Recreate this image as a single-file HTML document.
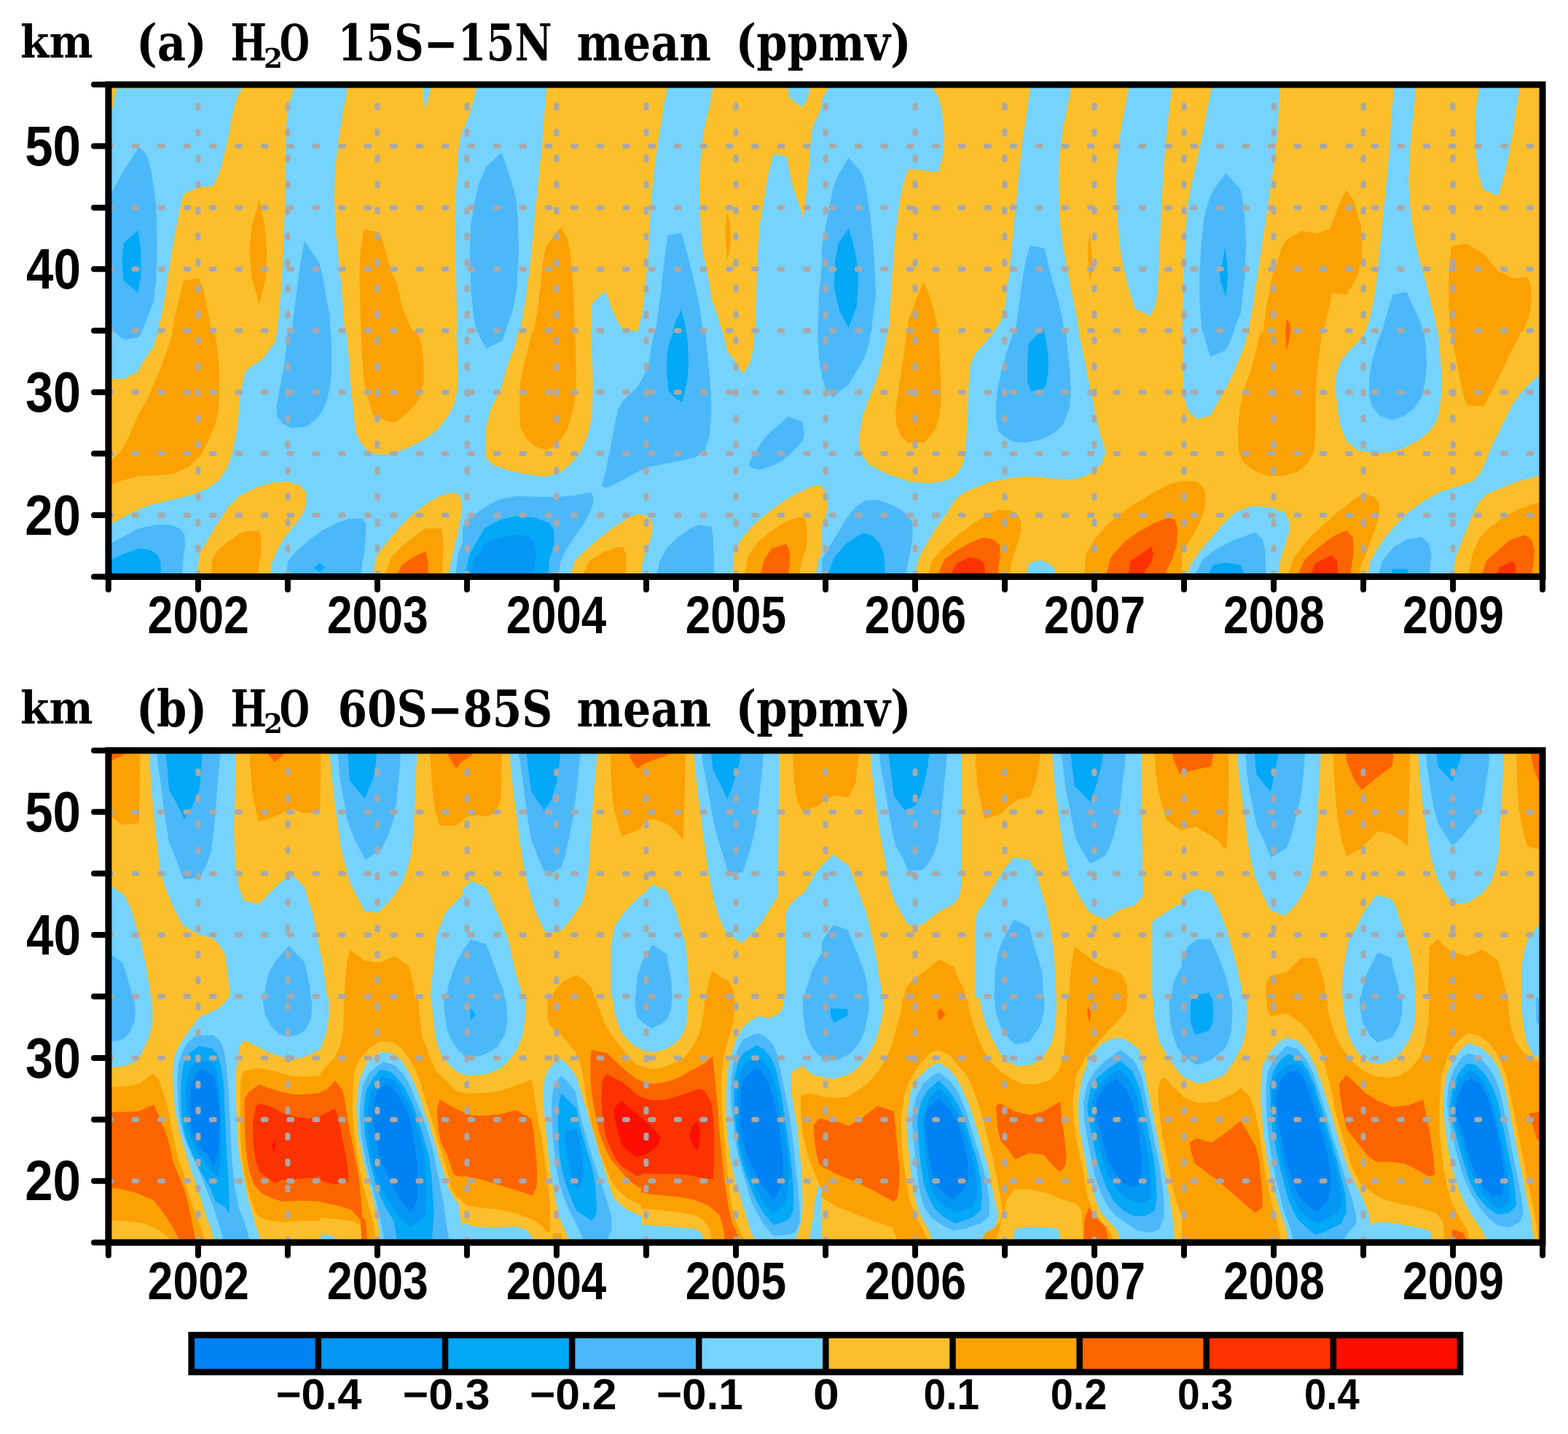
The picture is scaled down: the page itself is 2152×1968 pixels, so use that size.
<!DOCTYPE html>
<html><head><meta charset="utf-8"><title>H2O anomalies</title>
<style>html,body{margin:0;padding:0;background:#fff;width:2152px;height:1968px;overflow:hidden}
svg text{fill:#000}</style></head>
<body>
<svg width="2152" height="1968" viewBox="0 0 2152 1968" style="position:absolute;left:0;top:0"><defs><clipPath id="pa"><rect x="148.3" y="116" width="1968.7" height="675"/></clipPath><clipPath id="pb"><rect x="148.3" y="1030.5" width="1968.7" height="675"/></clipPath><clipPath id="k0"><rect x="140" y="110" width="495" height="345"/></clipPath><clipPath id="k1"><rect x="635" y="110" width="493" height="345"/></clipPath><clipPath id="k2"><rect x="1128" y="110" width="494" height="345"/></clipPath><clipPath id="k3"><rect x="1622" y="110" width="503" height="345"/></clipPath><clipPath id="k4"><rect x="140" y="455" width="495" height="345"/></clipPath><clipPath id="k5"><rect x="635" y="455" width="493" height="345"/></clipPath><clipPath id="k6"><rect x="1128" y="455" width="494" height="345"/></clipPath><clipPath id="k7"><rect x="1622" y="455" width="503" height="345"/></clipPath><clipPath id="k8"><rect x="140" y="1024" width="495" height="345"/></clipPath><clipPath id="k9"><rect x="635" y="1024" width="493" height="345"/></clipPath><clipPath id="k10"><rect x="1128" y="1024" width="494" height="345"/></clipPath><clipPath id="k11"><rect x="1622" y="1024" width="503" height="345"/></clipPath><clipPath id="k12"><rect x="140" y="1369" width="495" height="345"/></clipPath><clipPath id="k13"><rect x="140" y="1369" width="300" height="345"/></clipPath><clipPath id="k14"><rect x="635" y="1369" width="245" height="345"/></clipPath><clipPath id="k15"><rect x="880" y="1369" width="248" height="345"/></clipPath><clipPath id="k16"><rect x="1128" y="1369" width="494" height="345"/></clipPath><clipPath id="k17"><rect x="1622" y="1369" width="503" height="345"/></clipPath></defs>
<g clip-path="url(#pa)">
<g clip-path="url(#k0)">
<rect x="140" y="110" width="495" height="345" fill="#FBBF2B"/>
<polygon fill="#75D3FD" points="162.3,121.2 332.2,121.2 324.8,134.8 318.6,159.6 313.6,186.9 303.7,229.0 293.8,253.8 288.8,255.8 271.4,257.6 251.6,266.2 246.6,288.6 239.2,325.8 231.8,370.4 224.3,420.0 215.6,460.0 140.0,460.0 140.0,152.2 153.6,152.2 162.3,110.0"/>
<polygon fill="#75D3FD" points="402.9,110.0 478.5,110.0 476.8,121.2 469.9,159.6 463.7,196.8 459.9,234.0 458.7,271.2 461.2,320.8 464.9,358.0 469.9,407.6 473.6,460.0 379.3,460.0 383.1,432.4 386.8,382.8 389.3,333.2 391.0,283.6 391.7,209.2 393.0,172.0 396.7,142.2 402.9,121.2"/>
<polygon fill="#75D3FD" points="581.0,110.0 590.9,110.0 590.9,121.2 583.5,152.2 581.0,121.2"/>
<polygon fill="#75D3FD" points="640.0,164.6 633.6,179.4 628.6,209.2 626.1,258.8 624.9,320.8 626.1,382.8 627.4,460.0 640.0,460.0"/>
<polygon fill="#4BB8FA" points="140.0,263.8 153.6,263.8 169.8,234.0 190.8,201.8 200.8,211.7 205.7,226.6 210.7,253.8 214.4,283.6 215.6,333.2 214.4,382.8 210.7,415.1 204.5,429.9 195.8,452.3 190.8,460.0 140.0,460.0"/>
<polygon fill="#4BB8FA" points="417.8,330.7 427.7,345.6 437.6,359.3 442.6,377.9 447.5,407.6 452.5,432.4 453.7,460.0 400.4,460.0 402.9,432.4 407.9,395.2 412.8,358.0"/>
<polygon fill="#03A8F7" points="169.8,333.2 189.6,315.9 193.3,345.6 193.3,377.9 189.6,401.4 169.8,385.3 167.3,358.0"/>
<polygon fill="#FCA103" points="355.8,273.7 363.2,308.4 366.2,345.6 364.5,382.8 355.8,417.5 345.9,382.8 342.1,345.6 345.9,308.4"/>
<polygon fill="#FCA103" points="251.6,385.3 272.7,381.6 278.9,395.2 286.3,432.4 291.3,460.0 235.5,460.0 240.4,432.4 246.6,407.6"/>
<polygon fill="#FCA103" points="499.6,314.6 521.9,319.6 529.4,345.6 536.8,372.9 544.3,387.8 551.7,420.0 561.6,444.8 569.1,460.0 495.9,460.0 494.7,432.4 493.4,382.8 494.7,345.6"/>
</g>
<g clip-path="url(#k1)">
<rect x="635" y="110" width="493" height="345" fill="#FBBF2B"/>
<polygon fill="#75D3FD" points="653.6,110.0 750.3,110.0 750.3,121.2 747.8,147.2 745.3,184.4 741.6,221.6 736.6,271.2 731.7,320.8 726.7,370.4 721.8,407.6 715.6,444.8 713.1,460.0 630.0,460.0 630.0,205.5 637.4,174.5 647.4,147.2 653.6,121.2"/>
<polygon fill="#75D3FD" points="916.5,110.0 979.7,110.0 978.5,121.2 973.5,147.2 967.3,172.0 963.6,196.8 961.1,221.6 959.9,258.8 961.1,296.0 962.3,333.2 967.3,358.0 972.3,382.8 977.2,412.6 984.7,432.4 992.1,460.0 875.5,460.0 875.5,454.7 883.0,420.0 886.7,382.8 889.2,358.0 891.7,308.4 894.1,271.2 897.9,234.0 902.8,196.8 909.0,159.6 912.7,134.8 916.5,121.2"/>
<polygon fill="#75D3FD" points="812.3,460.0 812.3,417.5 818.5,410.1 825.9,403.9 832.1,400.2 838.3,420.0 845.8,437.4 854.5,452.3 868.1,453.5 875.5,454.7 875.5,460.0"/>
<polygon fill="#75D3FD" points="1081.4,110.0 1111.2,110.0 1111.2,121.2 1108.7,134.8 1101.2,147.2 1083.4,134.8 1081.4,121.2"/>
<polygon fill="#75D3FD" points="1036.7,460.0 1038.0,407.6 1039.2,358.0 1042.9,308.4 1049.1,271.2 1055.3,234.0 1061.5,210.4 1080.1,215.4 1083.9,239.0 1088.8,258.8 1096.3,278.7 1102.5,301.0 1106.2,271.2 1109.9,234.0 1111.2,209.2 1113.6,184.4 1116.1,172.0 1122.3,159.6 1130.0,139.8 1130.0,460.0"/>
<polygon fill="#4BB8FA" points="688.3,209.2 694.5,226.6 701.9,248.9 708.1,271.2 710.6,296.0 711.8,345.6 709.4,395.2 704.4,422.5 698.2,442.3 692.0,460.0 654.8,460.0 649.8,432.4 646.1,395.2 644.9,345.6 646.1,308.4 651.1,278.7 657.3,251.4 667.2,229.0"/>
<polygon fill="#4BB8FA" points="916.5,323.3 935.1,319.6 942.5,345.6 948.7,370.4 954.9,395.2 959.9,420.0 963.6,444.8 964.8,460.0 899.1,460.0 902.8,432.4 907.8,395.2 911.5,358.0"/>
<polygon fill="#03A8F7" points="935.1,425.0 940.0,444.8 942.5,460.0 921.4,460.0 927.6,439.9"/>
<polygon fill="#4BB8FA" points="1122.3,460.0 1123.6,407.6 1127.3,370.4 1130.0,358.0 1130.0,460.0"/>
<polygon fill="#FCA103" points="770.1,310.9 778.8,328.3 782.5,345.6 785.0,370.4 787.5,407.6 788.7,460.0 731.7,460.0 736.6,432.4 741.6,395.2 745.3,358.0 749.0,338.2"/>
<polygon fill="#FCA103" points="998.3,291.1 1002.0,308.4 1003.3,328.3 1000.8,345.6 998.3,358.0 995.8,333.2 995.8,308.4"/>
</g>
<g clip-path="url(#k2)">
<rect x="1128" y="110" width="494" height="345" fill="#FBBF2B"/>
<polygon fill="#75D3FD" points="1136.2,110.0 1278.8,110.0 1280.0,121.2 1288.7,134.8 1293.7,159.6 1296.1,184.4 1294.9,209.2 1291.2,224.1 1287.5,236.5 1246.5,231.5 1241.6,246.4 1235.4,271.2 1230.4,308.4 1226.7,345.6 1224.2,382.8 1221.7,420.0 1219.2,460.0 1125.0,460.0 1125.0,144.7 1136.2,121.2"/>
<polygon fill="#4BB8FA" points="1164.7,216.6 1178.3,231.5 1184.5,241.4 1189.5,263.8 1194.4,296.0 1198.2,333.2 1200.6,370.4 1201.9,407.6 1198.2,432.4 1195.7,460.0 1125.0,460.0 1125.0,358.0 1128.7,333.2 1133.7,308.4 1138.6,283.6 1143.6,256.3 1152.3,236.5"/>
<polygon fill="#03A8F7" points="1164.7,313.4 1170.9,333.2 1175.8,358.0 1178.3,382.8 1175.8,420.0 1164.7,449.8 1152.3,427.5 1144.8,395.2 1146.1,358.0 1151.0,333.2"/>
<polygon fill="#FCA103" points="1267.6,387.8 1273.8,400.2 1280.0,420.0 1285.0,439.9 1287.5,460.0 1245.3,460.0 1246.5,439.9 1254.0,420.0 1261.4,400.2"/>
<polygon fill="#75D3FD" points="1413.9,110.0 1470.2,110.0 1469.7,121.2 1464.8,147.2 1459.8,172.0 1456.1,196.8 1453.6,221.6 1452.9,246.4 1453.6,271.2 1454.9,308.4 1458.6,333.2 1462.3,358.0 1467.3,382.8 1472.2,407.6 1477.2,432.4 1482.1,460.0 1358.1,460.0 1363.1,457.2 1373.0,442.3 1379.2,420.0 1382.9,395.2 1385.4,370.4 1387.9,345.6 1391.6,308.4 1395.3,271.2 1397.8,246.4 1400.3,221.6 1402.8,196.8 1406.5,172.0 1410.2,147.2 1413.9,121.2"/>
<polygon fill="#4BB8FA" points="1413.9,336.9 1433.8,340.7 1437.5,358.0 1442.5,377.9 1447.4,395.2 1452.4,412.6 1457.3,432.4 1461.1,460.0 1392.9,460.0 1396.6,432.4 1401.5,395.2 1407.7,358.0"/>
<polygon fill="#03A8F7" points="1432.5,451.0 1433.8,460.0 1422.6,460.0"/>
<polygon fill="#75D3FD" points="1549.6,110.0 1609.1,110.0 1608.6,121.2 1604.9,147.2 1601.2,184.4 1598.7,209.2 1596.2,246.4 1593.8,283.6 1592.5,320.8 1591.3,358.0 1588.8,395.2 1586.3,417.5 1578.9,433.7 1557.8,423.7 1549.1,395.2 1542.9,370.4 1537.9,345.6 1535.5,320.8 1533.0,296.0 1531.7,271.2 1531.7,246.4 1533.0,221.6 1535.5,196.8 1539.2,172.0 1544.1,147.2 1549.1,121.2"/>
<polygon fill="#FCA103" points="1495.8,319.6 1498.3,345.6 1499.5,370.4 1495.8,386.5 1493.3,358.0 1493.3,333.2"/>
</g>
<g clip-path="url(#k3)">
<rect x="1622" y="110" width="503" height="345" fill="#FBBF2B"/>
<polygon fill="#75D3FD" points="1663.1,110.0 1757.3,110.0 1756.5,121.3 1755.3,147.6 1752.8,185.1 1749.0,222.7 1745.2,247.8 1741.5,272.8 1737.7,297.9 1734.0,322.9 1730.2,348.0 1726.5,373.0 1722.7,398.1 1718.9,423.1 1713.9,448.2 1711.4,459.9 1622.5,459.9 1623.8,410.6 1625.0,373.0 1626.3,335.4 1628.8,297.9 1631.3,272.8 1636.3,247.8 1642.5,222.7 1647.6,197.7 1652.6,172.6 1657.6,147.6 1662.6,121.3"/>
<polygon fill="#4BB8FA" points="1682.6,237.8 1692.6,249.0 1702.7,260.3 1706.4,280.3 1708.9,310.4 1710.2,335.4 1708.9,373.0 1706.4,398.1 1702.7,430.6 1695.1,448.2 1692.6,459.9 1650.1,459.9 1646.3,410.6 1646.3,373.0 1648.8,335.4 1652.6,297.9 1657.6,280.3 1661.3,267.8 1670.1,254.0"/>
<polygon fill="#03A8F7" points="1681.4,339.2 1683.9,360.5 1685.1,380.5 1682.6,408.1 1675.1,385.5 1673.9,373.0 1677.6,360.5"/>
<polygon fill="#FCA103" points="1848.0,260.3 1859.2,277.8 1864.2,297.9 1868.0,310.4 1869.2,335.4 1868.0,360.5 1864.2,375.5 1856.7,390.6 1848.0,404.3 1827.9,401.8 1824.2,423.1 1819.1,443.2 1815.4,459.9 1732.7,459.9 1737.7,423.1 1742.7,398.1 1745.2,380.5 1752.8,360.5 1759.0,340.5 1765.3,329.2 1786.6,316.7 1805.4,320.4 1825.4,314.2 1830.4,300.4 1837.9,280.3"/>
<polygon fill="#FC6400" points="1765.3,438.1 1770.3,443.2 1771.6,459.9 1764.0,459.9"/>
<polygon fill="#75D3FD" points="1913.1,110.0 1943.6,110.0 1943.1,121.3 1940.6,147.6 1938.1,172.6 1935.6,197.7 1934.4,222.7 1933.1,247.8 1934.4,272.8 1936.9,297.9 1940.6,322.9 1945.6,348.0 1953.2,373.0 1959.4,398.1 1965.7,423.1 1970.7,443.2 1973.2,459.9 1873.0,459.9 1878.0,443.2 1883.0,423.1 1888.0,398.1 1890.5,373.0 1893.0,348.0 1895.5,322.9 1898.1,297.9 1900.6,272.8 1903.1,247.8 1905.6,222.7 1908.1,185.1 1910.6,147.6 1913.1,121.3"/>
<polygon fill="#4BB8FA" points="1911.8,404.3 1930.6,400.6 1938.1,418.1 1945.6,433.1 1950.7,445.7 1953.2,459.9 1895.5,459.9 1900.6,440.7 1905.6,423.1"/>
<polygon fill="#75D3FD" points="2029.6,110.0 2086.4,110.0 2085.9,121.3 2080.9,147.6 2075.9,185.1 2070.9,210.2 2065.9,235.2 2060.9,252.8 2055.9,269.1 2035.8,260.3 2029.6,240.3 2025.8,215.2 2024.6,185.1 2025.8,147.6 2029.6,121.3"/>
<polygon fill="#FCA103" points="1992.0,338.0 2013.3,334.2 2035.8,348.0 2055.9,371.8 2075.9,381.8 2097.2,380.5 2101.0,393.1 2102.2,410.6 2099.7,430.6 2094.7,443.2 2088.4,459.9 1990.7,459.9 1988.2,423.1 1988.2,385.5 1989.5,360.5"/>
</g>
<g clip-path="url(#k4)">
<rect x="140" y="455" width="495" height="345" fill="#75D3FD"/>
<polygon fill="#FBBF2B" points="217.4,450.0 380.6,450.0 379.8,457.9 377.4,469.6 369.7,480.0 359.2,494.1 346.3,501.8 337.2,509.5 333.5,522.4 331.0,535.3 329.0,548.2 328.2,560.1 327.3,574.0 323.5,598.8 318.6,623.6 311.1,643.5 301.2,658.3 288.8,668.3 269.0,676.9 251.6,681.9 226.8,688.1 202.0,694.3 177.2,705.5 140.0,725.3 140.0,519.2 154.1,519.2 165.8,520.7 171.0,519.2 182.7,513.5 189.6,509.5 194.1,500.6 200.5,490.2 210.2,477.3 214.7,461.9"/>
<polygon fill="#FBBF2B" points="474.8,450.0 626.1,450.0 627.4,487.2 628.6,512.0 627.4,536.8 623.6,554.2 616.2,569.0 601.3,588.9 581.5,603.8 561.6,613.7 536.8,623.6 517.0,623.6 504.6,618.7 494.7,606.2 488.5,593.8 486.0,574.0 483.5,549.2 481.0,524.4 478.5,487.2"/>
<polygon fill="#FBBF2B" points="269.0,800.0 273.9,760.0 283.8,742.7 298.7,717.9 313.6,695.5 328.5,680.7 350.8,669.5 375.6,662.1 395.5,660.8 412.8,667.0 420.3,675.7 420.3,688.1 417.8,700.5 410.3,712.9 400.4,725.3 390.5,737.7 380.6,755.1 373.1,772.4 369.4,800.0"/>
<polygon fill="#FBBF2B" points="509.5,800.0 517.0,762.5 531.9,742.7 549.2,722.8 566.6,705.5 586.4,690.6 606.3,679.4 623.6,675.7 631.1,680.7 633.6,690.6 632.3,710.4 627.4,735.2 621.2,760.0 612.5,800.0"/>
<polygon fill="#4BB8FA" points="140.0,450.0 197.5,450.0 196.5,451.5 191.6,460.7 189.1,463.1 172.2,465.9 167.0,463.9 155.4,454.2 151.2,450.0"/>
<polygon fill="#4BB8FA" points="395.5,450.0 453.7,450.0 455.0,474.8 455.0,512.0 452.5,531.8 448.8,549.2 442.6,564.1 432.7,576.5 420.3,585.2 400.4,587.6 388.0,581.4 380.6,571.5 379.3,559.1 381.8,544.2 385.5,524.4 389.3,507.0 391.7,487.2 394.2,462.4"/>
<polygon fill="#4BB8FA" points="140.0,745.1 153.6,745.1 167.3,737.7 189.6,725.3 214.4,720.3 234.2,720.3 246.6,725.3 252.8,732.7 254.1,747.6 251.6,767.5 249.1,800.0 140.0,800.0"/>
<polygon fill="#4BB8FA" points="390.5,800.0 395.5,769.9 407.9,755.1 425.2,740.2 442.6,727.8 462.4,717.9 479.8,711.7 497.1,711.7 502.1,717.9 502.1,735.2 499.6,760.0 497.1,772.4 494.7,800.0"/>
<polygon fill="#4BB8FA" points="623.6,800.0 628.6,760.0 636.0,742.7 640.0,735.2 640.0,800.0"/>
<polygon fill="#03A8F7" points="140.0,767.5 153.6,767.5 169.8,760.0 192.1,752.6 207.0,755.1 216.9,762.5 220.6,772.4 220.6,800.0 140.0,800.0"/>
<polygon fill="#03A8F7" points="430.2,779.9 438.9,772.4 446.3,778.6 438.9,784.8"/>
<polygon fill="#FCA103" points="237.5,450.0 293.8,450.0 294.8,457.9 298.0,477.3 300.0,496.6 301.0,516.0 300.7,541.8 300.0,560.1 297.5,574.0 293.8,586.4 286.3,603.8 276.4,623.6 259.0,641.0 234.2,650.9 189.6,653.4 167.3,659.6 140.0,672.0 140.0,633.5 153.6,631.1 164.8,621.1 177.2,598.8 189.6,569.0 202.0,548.2 209.7,528.9 217.4,513.5 222.6,500.6 227.8,483.7 233.0,470.8 238.0,451.5"/>
<polygon fill="#FCA103" points="494.7,450.0 571.5,450.0 579.0,474.8 581.5,499.6 581.5,524.4 576.5,544.2 569.1,556.6 559.1,566.6 541.8,580.2 526.9,576.5 512.0,569.0 507.1,554.2 502.1,536.8 498.4,512.0 497.1,487.2 495.9,462.4"/>
<polygon fill="#FCA103" points="288.8,800.0 291.3,767.5 298.7,755.1 313.6,742.7 328.5,732.7 338.4,729.0 355.8,729.0 358.3,735.2 358.3,760.0 355.8,772.4 352.1,800.0"/>
<polygon fill="#FCA103" points="524.4,800.0 536.8,765.0 551.7,750.1 566.6,737.7 583.9,725.3 606.3,725.3 608.8,747.6 607.5,767.5 606.3,800.0"/>
<polygon fill="#FC6400" points="539.3,800.0 551.7,774.9 566.6,765.0 583.9,756.3 587.7,772.4 587.7,800.0"/>
</g>
<g clip-path="url(#k5)">
<rect x="635" y="455" width="493" height="345" fill="#75D3FD"/>
<polygon fill="#4BB8FA" points="653.6,450.0 695.0,450.0 689.5,467.4 667.2,478.5 659.8,464.9"/>
<polygon fill="#FBBF2B" points="711.8,450.0 811.1,450.0 812.3,487.2 813.5,512.0 813.5,536.8 812.3,574.0 806.1,598.8 796.2,621.1 783.8,636.0 768.9,648.4 746.6,654.6 724.2,650.9 699.4,645.9 677.1,638.5 667.2,628.6 666.0,611.2 667.2,586.4 673.4,561.6 688.3,531.8 697.0,499.6 706.9,474.8"/>
<polygon fill="#FCA103" points="731.7,450.0 788.7,450.0 790.0,474.8 790.7,524.4 788.7,549.2 785.0,569.0 778.8,588.9 768.9,603.8 759.0,613.7 749.0,617.4 734.2,612.5 721.8,601.3 714.3,586.4 713.1,561.6 714.3,524.4 719.3,499.6 725.5,474.8"/>
<polygon fill="#FBBF2B" points="863.1,450.0 876.0,450.0 874.3,455.0"/>
<polygon fill="#4BB8FA" points="899.1,450.0 967.3,450.0 969.8,474.8 972.3,499.6 974.7,524.4 976.0,549.2 976.0,574.0 973.5,598.8 967.3,618.7 954.9,627.3 940.0,631.1 915.2,636.0 890.4,641.0 878.0,645.9 853.2,659.6 832.1,669.5 825.9,667.0 830.9,648.4 835.9,623.6 840.8,598.8 844.5,579.0 848.3,561.6 855.7,549.2 874.3,531.8 883.0,517.0 890.4,499.6 894.1,474.8"/>
<polygon fill="#03A8F7" points="926.4,450.0 941.3,450.0 943.7,469.8 945.0,499.6 943.7,519.4 940.0,536.8 936.3,551.7 927.6,546.7 917.7,536.8 915.2,512.0 915.2,487.2 918.9,469.8"/>
<polygon fill="#FBBF2B" points="990.9,450.0 1035.5,450.0 1034.3,474.8 1030.5,494.6 1025.6,504.6 1019.4,513.2 1013.2,502.1 1008.2,494.6 998.3,482.2 994.6,467.4"/>
<polygon fill="#4BB8FA" points="1122.3,450.0 1130.0,450.0 1130.0,517.0 1126.0,504.6 1123.6,487.2 1122.3,462.4"/>
<polygon fill="#4BB8FA" points="1081.4,571.5 1101.2,579.0 1103.7,593.8 1102.5,603.8 1093.8,613.7 1083.9,623.6 1071.5,633.5 1059.1,639.7 1041.7,644.7 1031.8,642.2 1026.8,638.5 1031.8,628.6 1039.2,616.2 1049.1,601.3 1061.5,588.9 1073.9,579.0"/>
<polygon fill="#FBBF2B" points="630.0,680.7 632.5,685.6 633.7,698.0 632.5,712.9 630.0,722.8"/>
<polygon fill="#4BB8FA" points="630.0,800.0 630.0,730.3 644.9,710.4 662.2,698.0 684.6,685.6 709.4,680.7 741.6,681.9 766.4,681.9 791.2,679.4 811.1,675.7 814.8,683.1 813.5,693.1 807.3,707.9 798.7,722.8 786.2,740.2 776.3,755.1 768.9,772.4 765.2,800.0"/>
<polygon fill="#03A8F7" points="635.0,800.0 644.9,760.0 664.7,725.3 687.0,712.9 709.4,707.9 734.2,710.4 754.0,717.9 760.2,727.8 760.2,747.6 754.0,767.5 751.5,800.0"/>
<polygon fill="#0596F5" points="644.9,800.0 649.8,769.9 667.2,745.1 687.0,737.7 706.9,734.0 724.2,735.2 731.7,742.7 736.6,760.0 734.2,772.4 731.7,800.0"/>
<polygon fill="#FBBF2B" points="780.0,800.0 788.7,769.9 803.6,755.1 823.5,737.7 843.3,722.8 863.1,710.4 875.5,705.5 887.9,707.9 895.4,717.9 895.4,730.3 890.4,747.6 883.0,767.5 876.8,800.0"/>
<polygon fill="#FCA103" points="794.9,800.0 808.6,769.9 828.4,757.5 845.8,751.3 855.7,751.3 859.4,762.5 859.4,777.4 858.2,800.0"/>
<polygon fill="#4BB8FA" points="899.1,800.0 905.3,769.9 915.2,752.6 930.1,737.7 947.5,725.3 959.9,720.3 976.0,722.8 978.5,735.2 979.7,760.0 979.7,800.0"/>
<polygon fill="#FBBF2B" points="1004.5,800.0 1007.0,760.0 1016.9,740.2 1031.8,722.8 1051.6,705.5 1071.5,690.6 1091.3,678.2 1116.1,667.0 1130.0,667.0 1130.0,755.1 1123.6,767.5 1117.4,800.0"/>
<polygon fill="#FCA103" points="1020.6,800.0 1026.8,762.5 1039.2,745.1 1056.6,730.3 1076.4,716.6 1096.3,709.2 1103.7,710.4 1107.4,722.8 1107.4,747.6 1101.2,767.5 1093.8,800.0"/>
<polygon fill="#FC6400" points="1040.5,800.0 1049.1,767.5 1059.1,752.6 1078.9,746.4 1083.9,755.1 1083.9,772.4 1080.1,800.0"/>
</g>
<g clip-path="url(#k6)">
<rect x="1128" y="455" width="494" height="345" fill="#75D3FD"/>
<polygon fill="#4BB8FA" points="1125.0,450.0 1195.7,450.0 1193.2,469.8 1187.0,489.7 1175.8,509.5 1163.4,529.4 1152.3,536.8 1143.6,545.5 1133.7,535.6 1128.7,519.4 1125.0,504.6"/>
<polygon fill="#FBBF2B" points="1219.2,450.0 1366.8,450.0 1360.6,459.9 1348.2,474.8 1338.3,484.7 1332.1,499.6 1329.6,524.4 1328.4,561.6 1327.1,593.8 1324.7,618.7 1320.9,638.5 1311.0,653.4 1293.7,660.8 1273.8,663.3 1249.0,660.8 1219.2,650.9 1194.4,638.5 1182.0,623.6 1178.3,606.2 1180.8,588.9 1184.5,569.0 1192.0,549.2 1201.9,524.4 1209.3,499.6 1214.3,474.8"/>
<polygon fill="#FCA103" points="1245.3,450.0 1287.5,450.0 1289.9,487.2 1291.2,524.4 1291.2,554.2 1288.7,574.0 1283.7,588.9 1276.3,598.8 1267.6,607.5 1246.5,607.5 1236.6,598.8 1230.4,583.9 1229.2,564.1 1231.6,544.2 1236.6,512.0 1240.3,487.2 1243.6,462.4"/>
<polygon fill="#4BB8FA" points="1392.9,450.0 1462.3,450.0 1464.8,474.8 1468.5,512.0 1469.7,536.8 1467.3,561.6 1459.8,581.4 1447.4,593.8 1430.1,602.5 1407.7,607.5 1390.4,606.2 1378.0,598.8 1370.5,591.4 1366.8,574.0 1366.8,554.2 1369.3,531.8 1374.3,509.5 1380.5,487.2 1386.7,467.4"/>
<polygon fill="#03A8F7" points="1432.5,450.0 1435.0,464.9 1438.7,487.2 1438.7,512.0 1435.0,529.4 1430.1,535.6 1415.2,536.8 1410.2,524.4 1410.2,499.6 1411.5,472.3 1422.6,459.9"/>
<polygon fill="#FBBF2B" points="1479.7,450.0 1625.0,450.0 1625.0,800.0 1256.4,800.0 1257.7,777.4 1263.9,760.0 1273.8,742.7 1286.2,722.8 1298.6,705.5 1311.0,685.6 1323.4,675.7 1340.8,668.3 1360.6,660.8 1385.4,655.9 1410.2,653.9 1422.6,654.6 1447.4,657.1 1472.2,658.3 1489.6,653.4 1502.0,645.9 1511.9,636.0 1516.9,623.6 1515.6,611.2 1510.7,598.8 1504.5,574.0 1499.5,549.2 1494.5,524.4 1489.6,499.6 1484.6,474.8"/>
<polygon fill="#75D3FD" points="1405.3,800.0 1412.7,772.4 1427.6,768.7 1437.5,772.4 1447.4,779.9 1449.9,800.0"/>
<polygon fill="#FBBF2B" points="1125.0,667.0 1132.4,673.2 1136.2,685.6 1136.2,698.0 1132.4,710.4 1125.0,727.8"/>
<polygon fill="#4BB8FA" points="1125.0,800.0 1125.0,772.4 1139.9,747.6 1152.3,727.8 1162.2,710.4 1174.6,695.5 1187.0,686.9 1204.4,685.6 1224.2,693.1 1241.6,703.0 1251.5,715.4 1252.7,735.2 1249.0,760.0 1245.3,774.9 1242.8,800.0"/>
<polygon fill="#03A8F7" points="1132.4,800.0 1144.8,765.0 1162.2,745.1 1184.5,731.5 1196.9,735.2 1206.8,745.1 1213.0,760.0 1215.5,800.0"/>
<polygon fill="#FCA103" points="1271.3,800.0 1278.8,769.9 1293.7,752.6 1313.5,735.2 1333.3,720.3 1353.2,707.9 1368.1,700.5 1387.9,700.5 1397.8,707.9 1401.5,717.9 1401.5,727.8 1397.8,742.7 1392.9,757.5 1387.9,772.4 1384.2,800.0"/>
<polygon fill="#FC6400" points="1282.5,800.0 1296.1,767.5 1313.5,755.1 1333.3,743.9 1349.5,737.7 1363.1,740.2 1371.8,747.6 1373.0,762.5 1370.5,777.4 1368.1,800.0"/>
<polygon fill="#FC3200" points="1297.4,800.0 1313.5,772.4 1330.9,765.0 1343.3,767.5 1350.7,772.4 1353.2,800.0"/>
<polygon fill="#FCA103" points="1487.1,800.0 1490.8,760.0 1502.0,740.2 1516.9,722.8 1536.7,705.5 1559.0,690.6 1583.8,675.7 1608.6,663.3 1625.0,659.6 1625.0,800.0"/>
<polygon fill="#FC6400" points="1515.6,800.0 1524.3,765.0 1541.7,745.1 1561.5,730.3 1583.8,717.9 1603.7,710.4 1612.4,712.9 1616.1,725.3 1614.8,747.6 1608.6,767.5 1601.2,782.3 1597.5,800.0"/>
<polygon fill="#FC3200" points="1546.6,800.0 1551.6,769.9 1566.5,760.0 1580.1,750.1 1582.6,760.0 1580.1,772.4 1571.4,782.3 1568.9,800.0"/>
</g>
<g clip-path="url(#k7)">
<rect x="1622" y="455" width="503" height="345" fill="#FBBF2B"/>
<polygon fill="#75D3FD" points="1623.8,450.0 1713.9,450.0 1707.7,475.0 1697.7,500.1 1686.4,525.1 1675.1,545.2 1661.3,570.2 1642.5,575.2 1630.0,562.7 1625.0,545.2 1623.8,512.6"/>
<polygon fill="#4BB8FA" points="1650.1,450.0 1695.1,450.0 1688.9,467.5 1682.6,480.1 1661.3,490.1 1655.1,470.0"/>
<polygon fill="#FCA103" points="1734.0,450.0 1815.4,450.0 1810.4,487.6 1806.6,525.1 1805.4,562.7 1805.4,600.3 1802.9,620.3 1795.3,635.4 1780.3,647.9 1760.3,652.9 1740.2,652.9 1720.2,645.4 1705.2,632.9 1700.2,620.3 1698.9,587.8 1701.4,562.7 1706.4,537.7 1715.2,512.6 1722.7,487.6 1727.7,462.5"/>
<polygon fill="#FC6400" points="1764.0,450.0 1771.6,450.0 1769.0,467.5 1765.3,480.1"/>
<polygon fill="#75D3FD" points="1875.5,450.0 1973.2,450.0 1975.7,475.0 1978.2,512.6 1978.2,537.7 1975.7,562.7 1970.7,580.3 1960.7,592.8 1945.6,605.3 1925.6,615.3 1903.1,621.6 1880.5,621.6 1863.0,617.8 1848.0,605.3 1839.2,582.8 1835.4,557.7 1832.9,532.7 1834.2,512.6 1840.4,495.1 1850.5,482.6 1863.0,470.0 1870.5,460.0"/>
<polygon fill="#4BB8FA" points="1898.1,450.0 1953.2,450.0 1956.9,475.0 1958.2,500.1 1955.7,525.1 1950.7,545.2 1940.6,560.2 1928.1,570.2 1910.6,576.5 1893.0,570.2 1883.0,557.7 1879.3,542.7 1879.3,520.1 1883.0,495.1 1890.5,470.0"/>
<polygon fill="#FCA103" points="1990.7,450.0 2088.4,450.0 2083.4,465.0 2073.4,482.6 2065.9,500.1 2055.9,520.1 2045.8,540.2 2035.8,557.7 2013.3,556.5 2007.0,537.7 2003.3,517.6 1998.2,492.6 1994.5,470.0"/>
<polygon fill="#75D3FD" points="2125.0,507.6 2112.2,515.1 2101.0,525.1 2088.4,537.7 2075.9,555.2 2065.9,575.2 2055.9,595.3 2045.8,615.3 2038.3,635.4 2030.8,650.4 2020.8,660.4 1995.7,669.2 1978.2,674.2 1953.2,688.0 1933.1,703.0 1915.6,720.5 1900.6,738.1 1889.3,755.6 1880.5,770.6 1875.5,799.9 1992.0,799.9 1998.2,763.1 2008.3,738.1 2018.3,713.0 2028.3,690.5 2040.8,678.0 2058.4,670.4 2083.4,660.4 2112.2,652.9 2125.0,650.4"/>
<polygon fill="#4BB8FA" points="1888.0,799.9 1898.1,768.1 1913.1,750.6 1930.6,740.6 1950.7,736.8 1960.7,745.6 1964.4,760.6 1963.2,773.1 1961.9,799.9"/>
<polygon fill="#03A8F7" points="1909.3,799.9 1910.6,780.7 1931.9,780.7 1931.9,799.9"/>
<polygon fill="#FCA103" points="2013.3,799.9 2020.8,760.6 2030.8,738.1 2045.8,723.0 2065.9,708.0 2085.9,698.0 2112.2,689.2 2125.0,688.0 2125.0,799.9"/>
<polygon fill="#FC6400" points="2029.6,799.9 2040.8,768.1 2055.9,755.6 2073.4,740.6 2093.4,734.3 2102.2,740.6 2106.0,755.6 2104.7,770.6 2101.0,799.9"/>
<polygon fill="#FC3200" points="2049.6,799.9 2058.4,778.1 2075.9,770.6 2079.7,775.6 2080.9,799.9"/>
<polygon fill="#FCA103" points="1620.0,660.4 1642.5,660.4 1652.6,670.4 1655.1,683.0 1652.6,700.5 1645.0,720.5 1635.0,738.1 1625.0,755.6 1620.0,763.1"/>
<polygon fill="#75D3FD" points="1625.0,799.9 1635.0,773.1 1647.6,755.6 1662.6,738.1 1677.6,720.5 1695.1,703.0 1720.2,694.2 1745.2,696.7 1762.8,703.0 1769.0,715.5 1769.0,730.6 1762.8,750.6 1757.8,765.6 1752.8,799.9"/>
<polygon fill="#4BB8FA" points="1635.0,799.9 1650.1,768.1 1670.1,753.1 1695.1,740.6 1722.7,730.6 1732.7,740.6 1736.5,755.6 1737.7,799.9"/>
<polygon fill="#03A8F7" points="1652.6,799.9 1665.1,775.6 1682.6,771.9 1702.7,775.6 1712.7,799.9"/>
<polygon fill="#FCA103" points="1764.0,799.9 1775.3,765.6 1792.8,743.1 1812.9,723.0 1835.4,703.0 1855.5,688.0 1870.5,676.7 1885.5,681.7 1893.0,690.5 1893.0,705.5 1889.3,720.5 1883.0,738.1 1875.5,758.1 1868.0,775.6 1863.0,799.9"/>
<polygon fill="#FC6400" points="1776.6,799.9 1790.3,768.1 1810.4,750.6 1830.4,735.6 1848.0,728.1 1856.7,738.1 1858.0,755.6 1855.5,773.1 1851.7,799.9"/>
<polygon fill="#FC3200" points="1792.8,799.9 1805.4,773.1 1827.9,761.9 1835.4,770.6 1836.7,799.9"/>
</g>
</g>
<g clip-path="url(#pb)">
<g clip-path="url(#k8)">
<rect x="140" y="1024" width="495" height="345" fill="#FBBF2B"/>
<polygon fill="#FCA103" points="140.0,1024.0 192.1,1024.0 192.1,1048.8 191.6,1086.0 190.8,1129.4 168.5,1131.9 154.9,1123.2 140.0,1123.2"/>
<polygon fill="#FC6400" points="140.0,1024.0 170.3,1024.0 169.8,1036.4 154.9,1042.6 140.0,1042.6"/>
<polygon fill="#75D3FD" points="203.2,1024.0 323.5,1024.0 323.0,1061.2 322.3,1098.4 321.1,1135.6 322.3,1172.8 324.8,1197.6 328.5,1219.9 334.7,1236.1 355.8,1241.0 368.2,1227.4 383.1,1212.5 395.5,1202.6 402.9,1202.6 417.8,1217.5 422.7,1234.8 428.9,1252.2 432.7,1272.0 437.6,1296.8 442.6,1321.6 446.3,1346.4 450.0,1374.0 314.9,1374.0 314.9,1358.8 312.4,1334.0 308.7,1309.2 301.2,1296.8 291.3,1286.9 273.9,1283.2 254.1,1272.0 249.1,1267.1 236.7,1242.3 226.8,1217.5 220.6,1197.6 215.6,1160.4 211.9,1123.2 208.2,1086.0 205.7,1048.8"/>
<polygon fill="#75D3FD" points="140.0,1217.5 154.9,1217.5 169.8,1227.4 179.7,1247.2 187.1,1272.0 192.1,1286.9 197.0,1309.2 202.0,1334.0 205.7,1358.8 208.2,1374.0 140.0,1374.0"/>
<polygon fill="#4BB8FA" points="140.0,1304.3 154.9,1311.7 168.5,1321.6 174.7,1341.5 179.7,1358.8 182.2,1374.0 140.0,1374.0"/>
<polygon fill="#4BB8FA" points="214.4,1024.0 303.7,1024.0 301.2,1048.8 298.7,1073.6 296.2,1110.8 293.8,1135.6 290.0,1167.8 283.8,1185.2 273.9,1205.1 251.6,1206.3 246.6,1192.7 239.2,1172.8 231.8,1155.4 226.8,1123.2 221.8,1086.0 216.9,1048.8"/>
<polygon fill="#03A8F7" points="225.6,1024.0 278.9,1024.0 276.4,1048.8 273.9,1083.5 264.0,1105.8 252.8,1124.4 244.2,1105.8 231.8,1083.5 229.3,1048.8"/>
<polygon fill="#FCA103" points="342.1,1024.0 440.1,1024.0 440.1,1048.8 439.6,1086.0 438.9,1115.8 415.3,1115.8 400.4,1109.6 388.0,1115.8 370.7,1123.2 354.5,1126.9 350.8,1110.8 345.9,1086.0 343.4,1048.8"/>
<polygon fill="#FC6400" points="366.9,1024.0 390.5,1024.0 389.3,1035.2 376.9,1046.3 368.2,1035.2"/>
<polygon fill="#75D3FD" points="451.3,1024.0 572.8,1024.0 570.3,1073.6 569.1,1110.8 566.6,1148.0 564.1,1172.8 559.1,1192.7 551.7,1212.5 541.8,1227.4 531.9,1239.8 519.5,1252.2 500.9,1250.9 489.7,1229.9 479.8,1210.0 473.6,1185.2 467.4,1160.4 462.4,1123.2 457.5,1086.0 453.7,1048.8"/>
<polygon fill="#4BB8FA" points="462.4,1024.0 550.5,1024.0 549.2,1048.8 546.7,1073.6 544.3,1098.4 540.5,1123.2 534.3,1143.0 526.9,1157.9 521.9,1167.8 512.0,1172.8 502.1,1180.2 494.7,1167.8 487.2,1153.0 481.0,1138.1 476.1,1123.2 472.3,1098.4 467.4,1073.6 464.9,1048.8"/>
<polygon fill="#03A8F7" points="476.1,1024.0 518.2,1024.0 515.7,1048.8 512.0,1068.6 500.9,1095.9 489.7,1083.5 479.8,1071.1 478.5,1048.8"/>
<polygon fill="#FCA103" points="590.1,1024.0 640.0,1024.0 640.0,1123.2 626.1,1133.1 603.8,1133.1 598.8,1118.2 595.1,1098.4 592.6,1073.6 591.4,1048.8"/>
<polygon fill="#FC6400" points="612.5,1024.0 640.0,1024.0 640.0,1036.4 626.1,1055.0 616.2,1038.9"/>
<polygon fill="#75D3FD" points="640.0,1222.4 626.1,1237.3 611.2,1252.2 603.8,1272.0 598.8,1284.4 596.3,1309.2 593.9,1334.0 591.4,1358.8 590.1,1374.0 640.0,1374.0"/>
<polygon fill="#4BB8FA" points="640.0,1296.8 628.6,1316.7 621.2,1334.0 615.0,1353.9 612.5,1374.0 640.0,1374.0"/>
<polygon fill="#FCA103" points="472.3,1374.0 473.6,1346.4 476.1,1321.6 479.8,1303.0 499.6,1317.9 520.7,1321.6 541.8,1311.7 561.6,1326.6 566.6,1346.4 570.3,1374.0"/>
<polygon fill="#4BB8FA" points="362.0,1374.0 364.5,1353.9 369.4,1334.0 378.1,1319.1 396.7,1298.1 417.8,1320.4 421.5,1336.5 425.2,1353.9 426.5,1374.0"/>
</g>
<g clip-path="url(#k9)">
<rect x="635" y="1024" width="493" height="345" fill="#FBBF2B"/>
<polygon fill="#FCA103" points="630.0,1024.0 688.3,1024.0 688.3,1073.6 687.0,1098.4 679.6,1115.8 667.2,1120.7 654.8,1118.2 642.4,1120.7 630.0,1125.7"/>
<polygon fill="#FC6400" points="630.0,1024.0 649.8,1024.0 647.4,1036.4 630.0,1048.8"/>
<polygon fill="#75D3FD" points="699.4,1024.0 819.7,1024.0 818.5,1048.8 814.8,1086.0 812.3,1123.2 809.8,1160.4 807.3,1197.6 803.6,1222.4 798.7,1239.8 791.2,1249.7 781.3,1264.6 770.1,1277.0 761.4,1279.5 747.8,1278.2 736.6,1254.7 729.2,1234.8 723.0,1210.0 718.0,1185.2 714.3,1160.4 709.4,1123.2 704.4,1086.0 700.7,1048.8"/>
<polygon fill="#4BB8FA" points="709.4,1024.0 798.7,1024.0 794.9,1048.8 791.2,1086.0 786.2,1123.2 781.3,1148.0 776.3,1172.8 770.1,1190.2 759.0,1197.6 746.6,1195.1 739.1,1177.8 729.2,1153.0 724.2,1123.2 719.3,1086.0 714.3,1048.8"/>
<polygon fill="#03A8F7" points="721.8,1024.0 770.1,1024.0 767.6,1048.8 763.9,1073.6 756.5,1098.4 746.6,1112.0 739.1,1100.9 729.2,1086.0 725.5,1061.2"/>
<polygon fill="#FCA103" points="837.1,1024.0 941.3,1024.0 940.0,1073.6 938.8,1123.2 937.5,1153.0 927.6,1140.6 915.2,1130.6 897.9,1124.4 887.9,1125.7 878.0,1138.1 853.2,1148.0 845.8,1123.2 840.8,1098.4 838.3,1061.2"/>
<polygon fill="#FC6400" points="861.9,1024.0 917.7,1024.0 916.5,1036.4 897.9,1042.6 883.0,1048.8 874.3,1055.0 865.6,1041.4"/>
<polygon fill="#75D3FD" points="951.2,1024.0 1069.0,1024.0 1069.0,1048.8 1069.0,1098.4 1068.5,1148.0 1067.7,1197.6 1067.7,1229.9 1056.6,1247.2 1046.7,1264.6 1031.8,1281.9 1018.1,1294.3 995.8,1279.5 987.1,1259.6 979.7,1234.8 972.3,1197.6 967.3,1160.4 962.3,1123.2 957.4,1086.0 953.7,1048.8"/>
<polygon fill="#4BB8FA" points="962.3,1024.0 1047.9,1024.0 1046.7,1048.8 1041.7,1098.4 1036.7,1135.6 1029.3,1167.8 1019.4,1197.6 999.5,1197.6 992.1,1172.8 982.2,1140.6 976.0,1110.8 969.8,1073.6 964.8,1048.8"/>
<polygon fill="#03A8F7" points="974.7,1024.0 1018.1,1024.0 1014.4,1048.8 1007.0,1073.6 998.3,1097.2 987.1,1073.6 978.5,1056.2"/>
<polygon fill="#FCA103" points="1087.6,1024.0 1130.0,1024.0 1130.0,1098.4 1123.6,1105.8 1108.7,1110.8 1101.2,1113.3 1093.8,1098.4 1090.1,1073.6 1088.8,1048.8"/>
<polygon fill="#75D3FD" points="630.0,1227.4 646.1,1208.8 667.2,1217.5 674.6,1234.8 682.1,1252.2 688.3,1267.1 695.7,1284.4 700.7,1301.8 704.4,1321.6 709.4,1341.5 715.6,1358.8 719.3,1374.0 630.0,1374.0"/>
<polygon fill="#4BB8FA" points="630.0,1311.7 646.1,1289.4 667.2,1295.6 673.4,1311.7 679.6,1329.1 685.8,1346.4 690.8,1358.8 693.2,1374.0 630.0,1374.0"/>
<polygon fill="#75D3FD" points="838.3,1374.0 838.3,1296.8 843.3,1272.0 853.2,1257.1 860.7,1247.2 873.1,1234.8 885.5,1224.9 895.4,1213.7 915.2,1222.4 927.6,1249.7 933.8,1272.0 940.0,1291.9 942.5,1309.2 944.5,1334.0 946.2,1374.0"/>
<polygon fill="#4BB8FA" points="871.8,1374.0 874.3,1341.5 880.5,1321.6 887.9,1309.2 895.4,1296.8 915.2,1309.2 917.7,1326.6 921.4,1346.4 922.7,1374.0"/>
<polygon fill="#75D3FD" points="1077.7,1374.0 1077.7,1254.7 1083.9,1242.3 1093.8,1232.3 1103.7,1224.9 1111.2,1212.5 1119.8,1197.6 1130.0,1185.2 1130.0,1374.0"/>
<polygon fill="#4BB8FA" points="1102.5,1374.0 1106.2,1358.8 1113.6,1334.0 1123.6,1314.2 1130.0,1304.3 1130.0,1374.0"/>
<polygon fill="#FCA103" points="754.0,1374.0 763.9,1356.3 773.8,1346.4 791.2,1337.7 803.6,1346.4 812.3,1356.3 817.3,1374.0"/>
<polygon fill="#FCA103" points="968.5,1374.0 971.0,1353.9 977.2,1331.5 989.6,1341.5 999.5,1346.4 1005.7,1356.3 1008.2,1374.0"/>
</g>
<g clip-path="url(#k10)">
<rect x="1128" y="1024" width="494" height="345" fill="#FBBF2B"/>
<polygon fill="#FCA103" points="1125.0,1024.0 1179.6,1024.0 1177.1,1048.8 1174.6,1073.6 1164.7,1094.7 1144.8,1091.0 1125.0,1103.4"/>
<polygon fill="#75D3FD" points="1194.4,1024.0 1319.7,1024.0 1319.7,1073.6 1319.7,1123.2 1319.7,1172.8 1319.7,1210.0 1317.2,1229.9 1308.5,1241.0 1288.7,1250.9 1270.1,1265.8 1261.4,1270.8 1246.5,1269.5 1239.1,1257.1 1229.2,1239.8 1220.5,1217.5 1218.0,1197.6 1214.3,1177.8 1209.3,1153.0 1204.4,1123.2 1199.4,1086.0 1195.7,1048.8"/>
<polygon fill="#4BB8FA" points="1205.6,1024.0 1301.1,1024.0 1298.6,1048.8 1294.9,1086.0 1291.2,1123.2 1287.5,1153.0 1281.2,1172.8 1273.8,1185.2 1266.4,1193.9 1246.5,1195.1 1239.1,1177.8 1229.2,1160.4 1224.2,1140.6 1219.2,1110.8 1213.0,1073.6 1208.1,1048.8"/>
<polygon fill="#03A8F7" points="1218.0,1024.0 1276.3,1024.0 1273.8,1048.8 1268.8,1073.6 1263.9,1091.0 1256.4,1105.8 1241.6,1112.0 1226.7,1092.2 1223.0,1061.2"/>
<polygon fill="#FCA103" points="1338.3,1024.0 1428.8,1024.0 1426.3,1048.8 1421.4,1073.6 1413.9,1093.4 1397.8,1097.2 1385.4,1105.8 1371.8,1118.2 1350.7,1123.2 1345.7,1098.4 1340.8,1073.6 1339.5,1048.8"/>
<polygon fill="#75D3FD" points="1443.7,1024.0 1566.0,1024.0 1566.0,1048.8 1566.5,1098.4 1567.7,1148.0 1568.5,1197.6 1568.9,1229.9 1557.8,1242.3 1536.7,1248.5 1516.9,1262.1 1495.8,1252.2 1487.1,1239.8 1477.2,1222.4 1467.3,1202.6 1461.1,1172.8 1454.9,1135.6 1449.9,1098.4 1447.4,1073.6 1444.9,1048.8"/>
<polygon fill="#4BB8FA" points="1454.9,1024.0 1545.4,1024.0 1544.1,1048.8 1540.4,1073.6 1537.9,1098.4 1534.2,1123.2 1528.0,1148.0 1521.8,1165.4 1515.6,1175.3 1495.8,1185.2 1487.1,1170.3 1477.2,1153.0 1472.2,1130.6 1467.3,1105.8 1462.3,1081.0 1458.6,1048.8"/>
<polygon fill="#03A8F7" points="1468.5,1024.0 1515.6,1024.0 1511.9,1048.8 1505.7,1073.6 1497.0,1100.9 1474.7,1078.6 1471.0,1048.8"/>
<polygon fill="#FCA103" points="1583.8,1024.0 1625.0,1024.0 1625.0,1140.6 1618.6,1138.1 1601.2,1125.7 1595.0,1105.8 1590.0,1086.0 1586.3,1061.2"/>
<polygon fill="#FC6400" points="1606.2,1024.0 1625.0,1024.0 1625.0,1063.7 1618.6,1061.2 1611.1,1043.8"/>
<polygon fill="#75D3FD" points="1125.0,1190.2 1143.6,1172.8 1164.7,1187.7 1172.1,1207.5 1179.6,1227.4 1188.2,1249.7 1193.2,1269.5 1198.2,1291.9 1201.9,1309.2 1205.6,1334.0 1209.3,1353.9 1211.8,1374.0 1125.0,1374.0"/>
<polygon fill="#4BB8FA" points="1125.0,1296.8 1143.6,1269.5 1163.4,1275.7 1169.6,1291.9 1177.1,1309.2 1184.5,1329.1 1189.5,1346.4 1192.0,1374.0 1125.0,1374.0"/>
<polygon fill="#75D3FD" points="1338.3,1374.0 1338.3,1272.0 1340.8,1252.2 1350.7,1239.8 1363.1,1217.5 1378.0,1192.7 1391.6,1176.5 1412.7,1180.2 1422.6,1197.6 1428.8,1222.4 1436.3,1247.2 1441.2,1272.0 1444.9,1296.8 1447.4,1321.6 1448.7,1346.4 1449.9,1374.0"/>
<polygon fill="#4BB8FA" points="1364.3,1374.0 1365.6,1334.0 1369.3,1309.2 1375.5,1291.9 1391.6,1262.1 1412.7,1272.0 1417.7,1291.9 1425.1,1316.7 1430.1,1334.0 1432.5,1374.0"/>
<polygon fill="#75D3FD" points="1581.3,1374.0 1581.3,1264.6 1596.2,1254.7 1611.1,1244.7 1625.0,1237.3 1625.0,1374.0"/>
<polygon fill="#4BB8FA" points="1606.2,1374.0 1611.1,1346.4 1618.6,1331.5 1625.0,1321.6 1625.0,1374.0"/>
<polygon fill="#FCA103" points="1239.1,1374.0 1244.0,1353.9 1256.4,1341.5 1273.8,1329.1 1288.7,1316.7 1308.5,1326.6 1316.0,1343.9 1323.4,1358.8 1325.9,1374.0"/>
<polygon fill="#FCA103" points="1467.3,1374.0 1468.5,1346.4 1471.0,1321.6 1474.7,1299.3 1497.0,1315.4 1511.9,1326.6 1531.7,1332.8 1539.2,1336.5 1546.6,1351.4 1547.9,1374.0"/>
</g>
<g clip-path="url(#k11)">
<rect x="1622" y="1024" width="503" height="345" fill="#FBBF2B"/>
<polygon fill="#FCA103" points="1620.0,1024.0 1686.4,1024.0 1686.4,1074.1 1685.6,1124.2 1683.9,1161.8 1681.4,1165.5 1672.6,1154.3 1657.6,1144.2 1640.0,1134.2 1620.0,1140.5"/>
<polygon fill="#FC6400" points="1620.0,1024.0 1666.3,1024.0 1662.6,1051.6 1645.0,1055.3 1620.0,1061.6"/>
<polygon fill="#75D3FD" points="1697.7,1024.0 1812.9,1024.0 1811.6,1061.6 1809.1,1099.1 1806.6,1136.7 1802.9,1174.3 1797.9,1204.4 1790.3,1221.9 1780.3,1239.4 1764.0,1257.0 1744.0,1249.4 1732.7,1226.9 1722.7,1204.4 1715.2,1174.3 1710.2,1136.7 1705.2,1099.1 1700.2,1061.6"/>
<polygon fill="#4BB8FA" points="1708.9,1024.0 1791.6,1024.0 1790.3,1049.0 1787.8,1074.1 1784.1,1099.1 1777.8,1124.2 1771.6,1149.2 1765.3,1164.3 1744.0,1176.8 1735.2,1154.3 1725.2,1134.2 1720.2,1111.7 1715.2,1086.6 1711.4,1061.6"/>
<polygon fill="#03A8F7" points="1721.5,1024.0 1756.5,1024.0 1752.8,1044.0 1747.8,1069.1 1744.0,1086.6 1732.7,1074.1 1724.0,1061.6 1722.7,1044.0"/>
<polygon fill="#FCA103" points="1830.4,1024.0 1934.4,1024.0 1934.4,1074.1 1933.1,1124.2 1931.9,1161.8 1920.6,1151.8 1908.1,1144.2 1890.5,1140.5 1880.5,1151.8 1868.0,1164.3 1848.0,1175.6 1841.7,1154.3 1835.4,1124.2 1832.4,1086.6 1830.4,1049.0"/>
<polygon fill="#FC6400" points="1846.7,1024.0 1914.3,1024.0 1910.6,1051.6 1890.5,1066.6 1869.2,1084.1 1859.2,1071.6 1853.0,1056.6 1848.0,1044.0"/>
<polygon fill="#75D3FD" points="1945.6,1024.0 2064.6,1024.0 2062.9,1061.6 2060.9,1099.1 2058.4,1136.7 2057.1,1169.3 2052.1,1194.3 2045.8,1211.9 2033.3,1226.9 2013.3,1239.4 1993.2,1239.4 1982.0,1224.4 1971.9,1204.4 1963.2,1174.3 1956.9,1136.7 1951.9,1099.1 1948.1,1061.6"/>
<polygon fill="#4BB8FA" points="1956.9,1024.0 2044.6,1024.0 2043.3,1049.0 2039.6,1074.1 2034.6,1106.7 2025.8,1124.2 2013.3,1139.2 2005.8,1149.2 1993.2,1160.5 1985.7,1149.2 1973.2,1129.2 1966.9,1104.2 1961.9,1074.1 1958.2,1049.0"/>
<polygon fill="#03A8F7" points="1970.7,1024.0 2009.5,1024.0 2003.3,1044.0 1993.2,1072.8 1973.2,1051.6"/>
<polygon fill="#FCA103" points="2080.9,1024.0 2125.0,1024.0 2125.0,1165.5 2112.2,1165.5 2095.9,1161.8 2089.7,1136.7 2084.7,1111.7 2082.2,1074.1"/>
<polygon fill="#FC6400" points="2098.4,1024.0 2125.0,1024.0 2125.0,1074.1 2112.2,1074.1 2104.7,1054.1"/>
<polygon fill="#75D3FD" points="1620.0,1231.9 1641.3,1219.4 1661.3,1224.4 1670.1,1241.9 1677.6,1259.5 1683.9,1277.0 1688.9,1294.5 1693.9,1312.1 1698.9,1332.1 1702.7,1349.6 1706.4,1373.9 1620.0,1373.9"/>
<polygon fill="#4BB8FA" points="1620.0,1324.6 1630.0,1299.5 1642.5,1289.5 1661.3,1288.3 1668.8,1304.6 1675.1,1319.6 1681.4,1337.1 1686.4,1354.7 1688.9,1373.9 1620.0,1373.9"/>
<polygon fill="#03A8F7" points="1640.0,1373.9 1645.0,1364.7 1660.1,1362.2 1662.6,1373.9"/>
<polygon fill="#75D3FD" points="1841.7,1373.9 1842.9,1337.1 1846.7,1312.1 1850.5,1292.0 1860.5,1274.5 1871.7,1252.0 1880.5,1239.4 1889.3,1228.2 1909.3,1233.2 1915.6,1244.4 1920.6,1259.5 1925.6,1274.5 1931.9,1294.5 1936.9,1314.6 1940.6,1337.1 1943.1,1373.9"/>
<polygon fill="#4BB8FA" points="1866.7,1373.9 1870.5,1354.7 1874.3,1339.6 1881.8,1324.6 1890.5,1307.1 1909.3,1314.6 1913.1,1332.1 1918.1,1349.6 1923.1,1373.9"/>
<polygon fill="#75D3FD" points="2088.4,1373.9 2088.4,1324.6 2092.2,1304.6 2098.4,1287.0 2106.0,1277.0 2112.2,1269.5 2125.0,1262.0 2125.0,1373.9"/>
<polygon fill="#FCA103" points="1737.7,1373.9 1737.7,1349.6 1742.7,1339.6 1765.3,1334.6 1775.3,1324.6 1786.6,1314.6 1806.6,1314.6 1812.9,1332.1 1817.9,1352.1 1820.4,1373.9"/>
<polygon fill="#FCA103" points="1959.4,1373.9 1960.7,1337.1 1961.9,1299.5 1973.2,1288.3 1980.7,1297.0 1990.7,1305.8 2013.3,1312.1 2034.6,1303.3 2055.9,1318.3 2060.9,1337.1 2065.9,1357.2 2068.4,1373.9"/>
</g>
<g clip-path="url(#k12)">
<rect x="140" y="1369" width="495" height="345" fill="#FBBF2B"/>
<polygon fill="#FCA103" points="472.3,1364.0 574.0,1364.0 575.3,1388.8 579.0,1421.0 590.6,1451.5 597.8,1469.4 612.2,1483.8 624.6,1496.2 640.0,1500.9 640.0,1714.0 437.6,1714.0 437.6,1475.6 447.5,1463.2 459.9,1450.8 467.4,1433.4 471.1,1413.6 471.8,1388.8"/>
<polygon fill="#75D3FD" points="425.2,1364.0 451.3,1364.0 451.3,1396.2 447.5,1418.6 440.1,1438.4 430.2,1448.3 425.2,1449.6"/>
<polygon fill="#FC6400" points="437.6,1499.9 450.0,1494.2 459.9,1483.0 469.9,1495.4 473.6,1512.8 477.3,1537.6 482.3,1562.4 487.2,1587.2 492.2,1612.0 494.7,1636.8 497.1,1669.1 502.1,1676.5 504.6,1714.0 497.1,1714.0 494.7,1674.0 482.3,1660.4 462.4,1654.2 437.6,1649.2"/>
<polygon fill="#FBBF2B" points="437.6,1671.5 462.4,1672.8 484.7,1676.5 494.7,1681.5 497.1,1714.0 437.6,1714.0"/>
<polygon fill="#75D3FD" points="437.6,1693.9 452.5,1695.1 462.4,1700.1 462.4,1714.0 437.6,1714.0"/>
<polygon fill="#FC3200" points="437.6,1532.2 447.5,1527.7 459.9,1521.5 464.9,1537.6 469.9,1562.4 474.8,1587.2 478.5,1612.0 477.3,1621.9 459.9,1625.7 437.6,1619.5"/>
<polygon fill="#FC6400" points="603.3,1508.8 624.6,1521.2 640.0,1527.7 640.0,1617.0 622.9,1612.0 614.0,1585.7 605.0,1567.9 601.6,1550.0 599.6,1523.0"/>
<polygon fill="#75D3FD" points="591.4,1364.0 640.0,1364.0 640.0,1475.6 626.6,1471.1 612.2,1457.0 603.3,1442.6 597.8,1424.8 593.9,1388.8"/>
<polygon fill="#4BB8FA" points="608.8,1364.0 640.0,1364.0 640.0,1445.8 631.1,1443.4 621.2,1431.0 613.7,1413.6 610.0,1388.8"/>
<polygon fill="#FBBF2B" points="516.9,1713.9 511.6,1675.3 504.4,1648.4 497.3,1621.6 491.9,1594.7 486.5,1558.9 483.8,1523.2 484.7,1490.9 486.5,1469.5 493.7,1453.4 506.2,1439.0 522.3,1428.7 540.2,1431.0 552.7,1440.8 563.5,1455.1 570.6,1469.5 577.8,1487.4 583.2,1508.8 588.5,1523.2 593.9,1541.1 599.3,1558.9 604.6,1576.8 610.0,1594.7 615.4,1612.6 618.9,1630.5 626.1,1641.3 635.0,1648.4 640.4,1649.3 640.4,1713.9"/>
<polygon fill="#75D3FD" points="524.1,1713.9 516.9,1666.3 508.0,1630.5 499.1,1594.7 491.9,1558.9 489.2,1523.2 490.1,1505.2 493.7,1480.2 502.6,1460.5 515.1,1448.0 524.1,1443.5 540.2,1446.2 550.9,1455.1 559.9,1469.5 568.8,1487.4 576.0,1505.2 583.2,1528.5 588.5,1541.1 593.9,1558.9 599.3,1576.8 604.6,1594.7 610.0,1612.6 615.4,1630.5 622.5,1643.0 629.7,1653.8 633.3,1682.4 640.4,1683.3 640.4,1713.9"/>
<polygon fill="#4BB8FA" points="529.5,1713.9 520.5,1666.3 511.6,1630.5 502.6,1594.7 495.5,1558.9 493.7,1523.2 497.3,1490.9 506.2,1473.1 518.7,1462.3 525.9,1456.9 542.0,1462.3 552.7,1473.1 561.7,1487.4 568.8,1505.2 576.0,1523.2 583.2,1541.1 588.5,1558.9 593.9,1576.8 597.5,1594.7 601.0,1612.6 604.6,1630.5 608.2,1648.4 611.8,1675.3 618.9,1713.9"/>
<polygon fill="#03A8F7" points="547.4,1713.9 540.2,1675.3 529.5,1657.4 516.9,1630.5 508.0,1594.7 500.8,1558.9 499.1,1523.2 502.6,1496.3 511.6,1480.2 522.3,1467.7 536.6,1471.3 547.4,1482.0 556.3,1494.5 565.2,1512.4 572.4,1532.1 577.8,1550.0 583.2,1567.9 588.5,1585.8 592.1,1612.6 593.9,1639.5 595.7,1666.3 593.9,1684.2 592.1,1713.9"/>
<polygon fill="#0596F5" points="504.4,1550.0 504.4,1523.2 508.0,1501.7 515.1,1487.4 524.1,1477.5 538.4,1482.0 547.4,1490.9 556.3,1505.2 565.2,1523.2 570.6,1541.1 576.0,1558.9 581.4,1576.8 583.2,1594.7 584.9,1621.6 584.9,1648.4 583.2,1669.9 563.5,1684.2 547.4,1669.9 533.1,1648.4 522.3,1626.9 513.4,1603.7 508.0,1576.8"/>
<polygon fill="#0082F5" points="512.5,1541.1 511.6,1523.2 515.1,1505.2 522.3,1492.7 529.5,1487.4 540.2,1494.5 550.9,1510.6 559.9,1528.5 565.2,1546.4 568.8,1567.9 572.4,1594.7 573.3,1621.6 572.4,1648.4 563.5,1664.5 550.9,1648.4 540.2,1630.5 529.5,1609.0 520.5,1585.8 515.1,1558.9"/>
</g>
<g clip-path="url(#k13)">
<rect x="140" y="1369" width="300" height="345" fill="#FBBF2B"/>
<polygon fill="#75D3FD" points="140.0,1364.0 208.3,1364.0 209.3,1383.0 209.3,1405.8 205.5,1420.9 196.9,1439.9 189.3,1455.1 178.0,1460.8 168.5,1463.6 154.2,1464.6 140.0,1464.6"/>
<polygon fill="#4BB8FA" points="140.0,1364.0 182.7,1364.0 185.6,1383.0 184.6,1402.0 178.0,1417.1 168.5,1426.6 154.2,1429.5 140.0,1429.5"/>
<polygon fill="#FCA103" points="140.0,1493.1 159.0,1492.1 178.0,1490.2 191.2,1487.4 210.2,1473.1 217.8,1481.7 223.5,1496.9 229.2,1515.8 233.0,1534.8 235.9,1553.8 240.6,1572.8 245.3,1591.8 252.0,1610.7 256.7,1629.7 262.4,1648.7 269.1,1667.7 276.7,1686.7 284.3,1714.0 236.8,1714.0 231.1,1698.1 215.9,1686.7 196.9,1679.1 168.5,1675.3 140.0,1675.3"/>
<polygon fill="#FC6400" points="140.0,1526.3 159.0,1526.3 189.3,1525.3 211.2,1515.8 217.8,1531.0 223.5,1544.3 229.2,1559.5 233.0,1572.8 236.8,1591.8 242.5,1607.0 248.2,1620.2 253.9,1635.4 257.7,1648.7 261.5,1667.7 265.3,1686.7 271.0,1714.0 252.0,1714.0 245.3,1700.9 238.7,1686.7 229.2,1671.5 219.7,1658.2 210.2,1646.8 187.5,1637.3 164.7,1631.6 140.0,1628.8"/>
<polygon fill="#75D3FD" points="312.7,1364.0 440.1,1364.0 440.1,1439.9 432.3,1443.7 420.9,1449.4 409.5,1452.3 396.2,1453.2 383.0,1449.4 367.8,1443.7 354.5,1437.1 335.5,1427.6 329.8,1434.2 327.0,1449.4 324.1,1468.4 323.2,1487.4 324.1,1515.8 325.1,1544.3 327.0,1572.8 329.8,1591.8 333.6,1610.7 337.4,1629.7 341.2,1648.7 346.9,1667.7 352.6,1686.7 358.3,1700.9 358.3,1714.0 296.6,1714.0 289.9,1686.7 282.4,1667.7 276.7,1648.7 271.0,1629.7 263.4,1610.7 257.7,1591.8 252.0,1572.8 246.3,1553.8 242.5,1534.8 239.6,1515.8 237.7,1496.9 236.8,1477.9 237.7,1458.9 240.6,1445.6 248.2,1430.4 261.5,1411.5 272.9,1396.3 286.1,1390.6 301.3,1383.0 310.8,1373.5"/>
<polygon fill="#4BB8FA" points="361.1,1364.0 426.6,1364.0 428.5,1383.0 426.6,1398.2 419.0,1413.3 409.5,1420.0 396.2,1422.8 383.0,1419.0 371.6,1407.7 364.0,1392.5 361.1,1375.4"/>
<polygon fill="#4BB8FA" points="269.1,1420.9 293.7,1420.9 303.2,1430.4 308.0,1443.7 310.8,1464.6 312.7,1487.4 314.6,1515.8 316.5,1553.8 318.4,1591.8 322.2,1629.7 327.9,1658.2 335.5,1677.2 341.2,1696.2 345.0,1714.0 308.9,1714.0 305.1,1696.2 299.4,1677.2 293.7,1658.2 286.1,1639.2 278.6,1620.2 271.0,1601.3 261.5,1582.3 253.9,1563.3 248.2,1544.3 244.4,1515.8 243.4,1487.4 244.4,1462.7 249.1,1445.6 257.7,1430.4"/>
<polygon fill="#03A8F7" points="272.9,1436.1 289.9,1438.0 297.5,1445.6 303.2,1462.7 307.0,1487.4 308.0,1515.8 309.9,1553.8 311.8,1591.8 313.7,1620.2 314.6,1648.7 314.6,1665.8 308.9,1656.3 295.6,1648.7 288.0,1629.7 280.5,1616.4 272.9,1603.2 265.3,1586.1 257.7,1569.0 252.0,1550.0 249.1,1531.0 248.2,1506.4 249.1,1477.9 252.0,1458.9 259.6,1445.6"/>
<polygon fill="#0596F5" points="272.9,1453.2 291.8,1458.9 297.5,1470.3 300.4,1487.4 302.3,1515.8 303.2,1544.3 303.2,1572.8 302.3,1601.3 299.4,1614.5 289.9,1607.0 280.5,1593.7 271.0,1580.4 263.4,1565.2 257.7,1548.1 254.8,1525.3 254.8,1496.9 256.7,1477.9 263.4,1462.7"/>
<polygon fill="#0082F5" points="274.8,1466.5 293.7,1476.0 297.5,1496.9 301.3,1525.3 301.3,1553.8 300.4,1572.8 297.5,1588.0 293.7,1599.4 284.3,1584.2 272.9,1572.8 265.3,1559.5 261.5,1544.3 260.5,1515.8 262.4,1487.4 269.1,1474.1"/>
<polygon fill="#FCA103" points="333.6,1470.3 354.5,1465.5 377.3,1470.3 396.2,1476.0 415.2,1477.9 440.1,1476.0 440.1,1675.3 415.2,1675.3 386.7,1677.2 367.8,1675.3 352.6,1667.7 345.0,1648.7 339.3,1629.7 335.5,1610.7 331.7,1582.3 329.8,1553.8 329.8,1525.3 329.8,1496.9 330.8,1481.7"/>
<polygon fill="#FC6400" points="335.5,1508.3 341.2,1498.8 355.4,1488.3 367.8,1493.1 386.7,1498.8 405.7,1502.6 424.7,1501.6 440.1,1499.7 440.1,1648.7 415.2,1647.8 386.7,1648.7 373.5,1644.9 358.3,1637.3 348.8,1625.9 343.1,1610.7 339.3,1591.8 336.4,1563.3 335.5,1534.8"/>
<polygon fill="#FC3200" points="346.9,1544.3 350.7,1519.6 355.4,1513.9 373.5,1519.6 386.7,1527.2 405.7,1532.9 424.7,1534.8 440.1,1532.9 440.1,1614.5 424.7,1616.4 405.7,1618.3 386.7,1619.3 377.3,1624.0 367.8,1616.4 356.4,1608.8 350.7,1591.8 347.8,1572.8"/>
<polygon fill="#FC0F00" points="376.3,1563.3 378.2,1572.8 376.3,1582.3 373.5,1572.8"/>
</g>
<g clip-path="url(#k14)">
<rect x="635" y="1369" width="245" height="345" fill="#FBBF2B"/>
<polygon fill="#FCA103" points="630.0,1499.7 649.0,1500.7 668.0,1499.7 686.9,1496.9 709.7,1489.3 729.6,1481.7 732.5,1496.9 735.3,1515.8 738.2,1534.8 742.0,1553.8 744.8,1572.8 747.7,1591.8 750.5,1610.7 752.4,1629.7 754.3,1648.7 755.3,1667.7 755.3,1690.5 749.6,1690.5 745.8,1684.8 734.4,1675.3 715.4,1667.7 696.4,1662.0 677.5,1659.1 658.5,1657.2 641.4,1654.4 630.0,1644.9"/>
<polygon fill="#FC6400" points="630.0,1525.3 649.0,1531.0 668.0,1531.0 686.9,1529.1 707.8,1523.4 728.7,1534.8 732.5,1553.8 734.4,1572.8 736.3,1591.8 737.2,1610.7 736.3,1629.7 730.6,1641.1 715.4,1635.4 696.4,1629.7 677.5,1624.0 658.5,1618.3 639.5,1614.5 630.0,1612.6"/>
<polygon fill="#FCA103" points="751.5,1364.0 816.0,1364.0 821.7,1383.0 829.3,1402.0 833.1,1410.3 843.5,1426.1 855.5,1441.6 866.1,1453.8 874.7,1461.6 886.8,1465.0 895.5,1467.3 904.3,1465.9 917.2,1462.5 930.1,1456.4 930.1,1659.1 914.7,1658.2 895.7,1656.3 876.7,1652.5 861.6,1644.9 848.3,1633.5 838.8,1620.2 831.2,1601.3 823.6,1582.3 817.9,1563.3 812.2,1544.3 808.4,1525.3 804.6,1506.4 801.8,1487.4 798.9,1470.3 795.1,1455.1 789.4,1443.7 783.7,1436.1 776.1,1426.6 766.7,1417.1 755.3,1407.7 751.5,1398.2 751.5,1383.0"/>
<polygon fill="#FCA103" points="755.3,1714.0 759.1,1692.4 770.5,1692.4 774.3,1714.0"/>
<polygon fill="#FC6400" points="811.3,1440.9 833.1,1445.0 843.5,1455.5 856.4,1467.6 873.9,1480.7 886.8,1485.9 895.5,1487.6 908.6,1485.9 921.5,1482.4 930.1,1478.8 930.1,1637.3 910.9,1637.3 891.9,1635.4 876.7,1629.7 863.5,1620.2 852.1,1607.0 838.8,1591.8 829.3,1572.8 822.1,1553.8 818.5,1534.8 814.1,1515.8 811.6,1496.9 810.3,1477.9 810.5,1452.1"/>
<polygon fill="#FC3200" points="828.7,1478.1 833.1,1473.9 843.5,1479.8 855.5,1485.9 862.5,1492.1 873.9,1502.4 886.8,1507.7 895.5,1510.1 913.0,1509.2 930.1,1504.1 930.1,1610.7 905.2,1610.7 886.2,1612.6 873.0,1613.6 854.0,1601.3 845.4,1591.8 836.9,1572.8 831.2,1560.1 827.8,1538.8 825.3,1512.8 826.1,1486.8"/>
<polygon fill="#FC0F00" points="842.6,1521.5 852.1,1510.1 865.0,1521.5 878.1,1532.0 891.2,1543.4 899.9,1551.9 905.2,1561.4 905.2,1569.0 895.7,1580.4 882.4,1586.1 873.0,1588.0 863.5,1580.4 854.0,1572.8 848.3,1553.8 843.5,1534.8"/>
<polygon fill="#75D3FD" points="630.0,1364.0 720.2,1364.0 721.1,1383.0 720.2,1402.0 717.3,1420.9 709.7,1439.9 700.2,1453.2 686.9,1466.5 668.0,1474.1 649.0,1476.0 630.0,1475.0"/>
<polygon fill="#4BB8FA" points="630.0,1364.0 692.6,1364.0 695.5,1383.0 696.4,1402.0 692.6,1420.9 683.1,1436.1 671.8,1443.7 658.5,1449.4 639.5,1449.4 630.0,1447.5"/>
<polygon fill="#03A8F7" points="645.2,1383.0 652.8,1392.5 646.1,1400.1"/>
<polygon fill="#75D3FD" points="839.7,1364.0 930.1,1364.0 930.1,1432.3 918.5,1439.9 905.2,1443.7 891.9,1443.7 880.5,1439.9 869.2,1434.2 857.8,1422.8 850.2,1411.5 844.5,1392.5"/>
<polygon fill="#4BB8FA" points="871.1,1364.0 923.2,1364.0 922.3,1383.0 918.5,1396.3 914.7,1403.9 895.7,1412.4 882.4,1403.9 873.9,1394.4 872.0,1379.2"/>
<polygon fill="#75D3FD" points="762.9,1457.0 770.5,1453.2 781.8,1464.6 791.3,1477.9 797.0,1496.9 802.7,1515.8 808.4,1534.8 814.1,1553.8 819.8,1572.8 825.5,1591.8 831.2,1610.7 836.9,1629.7 842.6,1644.9 857.8,1658.2 876.7,1667.7 895.7,1675.3 914.7,1679.1 930.1,1680.0 930.1,1714.0 787.5,1714.0 781.8,1701.9 774.3,1686.7 766.7,1667.7 762.9,1648.7 759.1,1629.7 755.3,1610.7 753.4,1591.8 751.5,1572.8 749.6,1553.8 747.7,1534.8 746.2,1515.8 745.8,1496.9 747.7,1477.9 753.4,1466.5"/>
<polygon fill="#75D3FD" points="630.0,1675.3 649.0,1682.9 668.0,1684.8 686.9,1684.8 705.9,1682.9 721.1,1686.7 732.5,1700.0 732.5,1714.0 630.0,1714.0"/>
<polygon fill="#4BB8FA" points="770.5,1476.0 779.9,1485.5 789.4,1496.9 793.2,1515.8 797.0,1534.8 802.7,1553.8 808.4,1572.8 814.1,1591.8 819.8,1610.7 827.4,1629.7 833.1,1648.7 838.8,1667.7 839.7,1686.7 835.0,1698.1 831.2,1714.0 804.6,1714.0 797.0,1692.4 789.4,1677.2 779.9,1658.2 772.4,1639.2 766.7,1620.2 762.9,1601.3 761.0,1582.3 759.1,1563.3 758.1,1544.3 757.2,1525.3 757.2,1506.4 761.0,1487.4"/>
<polygon fill="#03A8F7" points="770.5,1500.7 781.8,1512.0 791.3,1521.5 795.1,1544.3 800.8,1563.3 806.5,1582.3 812.2,1601.3 816.0,1620.2 817.9,1639.2 818.9,1658.2 817.9,1667.7 812.2,1675.3 800.8,1667.7 791.3,1662.0 785.6,1648.7 778.0,1629.7 772.4,1610.7 768.6,1591.8 766.7,1572.8 765.7,1553.8 765.7,1534.8 766.7,1515.8"/>
<polygon fill="#0596F5" points="776.1,1553.8 791.3,1548.1 797.0,1572.8 799.9,1591.8 800.8,1610.7 797.0,1625.9 791.3,1631.6 785.6,1620.2 781.8,1601.3 778.0,1582.3 775.2,1563.3"/>
</g>
<g clip-path="url(#k15)">
<rect x="880" y="1369" width="248" height="345" fill="#FBBF2B"/>
<polygon fill="#FCA103" points="830.0,1443.7 858.5,1455.1 879.9,1462.7 886.8,1465.0 895.5,1467.3 904.0,1465.9 917.1,1462.5 930.2,1456.4 940.7,1449.6 949.2,1439.0 956.2,1426.1 960.0,1417.3 963.8,1402.0 966.7,1383.0 967.6,1364.0 1008.4,1364.0 1008.4,1383.0 1006.5,1402.0 1001.8,1419.0 997.0,1436.1 993.2,1451.3 991.3,1468.4 990.4,1487.4 990.4,1506.4 991.3,1525.3 992.3,1544.3 994.2,1563.3 996.1,1582.3 998.0,1601.3 999.9,1620.2 1001.8,1639.2 1004.6,1658.2 1010.3,1677.2 1017.9,1694.3 1027.4,1714.0 978.0,1714.0 974.3,1686.7 966.7,1675.3 953.4,1667.7 934.4,1663.9 915.4,1662.0 896.4,1660.1 879.9,1659.0 858.5,1650.6 841.4,1639.2 830.0,1629.7"/>
<polygon fill="#FC6400" points="830.0,1462.7 858.5,1476.0 879.9,1483.6 886.8,1485.9 895.5,1487.6 908.6,1485.9 921.5,1482.4 934.6,1477.3 947.5,1469.3 960.0,1463.3 968.6,1458.0 978.0,1449.4 979.9,1468.4 981.8,1487.4 983.7,1506.4 985.6,1525.3 986.6,1544.3 988.5,1563.3 990.4,1582.3 992.3,1601.3 994.2,1620.2 997.0,1639.2 999.9,1658.2 1004.6,1677.2 1010.3,1690.5 1017.9,1714.0 995.1,1714.0 993.2,1686.7 987.5,1667.7 972.4,1654.4 953.4,1646.8 934.4,1643.0 915.4,1641.1 896.4,1639.2 879.9,1636.9 858.5,1625.9 845.2,1610.7 835.7,1595.6 830.0,1582.3"/>
<polygon fill="#FC3200" points="830.0,1485.5 858.5,1498.8 879.9,1505.4 886.8,1507.7 895.5,1510.1 912.9,1509.4 930.2,1504.1 943.3,1499.9 956.2,1495.3 960.0,1494.6 966.7,1496.9 976.1,1512.0 979.0,1534.8 979.9,1553.8 979.9,1572.8 979.9,1591.8 979.0,1618.3 962.9,1616.4 943.9,1612.6 924.9,1610.7 905.9,1610.7 879.9,1610.7 868.0,1608.8 854.7,1595.6 843.3,1578.5 835.7,1561.4 830.0,1546.2"/>
<polygon fill="#FC0F00" points="842.5,1521.5 852.0,1510.1 864.9,1521.5 878.0,1532.0 891.1,1543.4 899.8,1551.9 906.9,1561.4 902.1,1572.8 890.7,1582.3 875.6,1588.0 864.2,1584.2 852.8,1572.8 847.1,1553.8 843.3,1534.8"/>
<polygon fill="#FC0F00" points="957.2,1538.6 961.0,1553.8 960.0,1569.0 957.2,1580.4 949.6,1569.0 945.8,1557.6 949.6,1546.2"/>
<polygon fill="#75D3FD" points="830.0,1364.0 943.9,1364.0 943.5,1383.0 942.7,1400.1 942.4,1404.2 938.8,1415.6 933.6,1425.1 924.0,1433.8 915.4,1439.0 904.0,1442.6 895.5,1444.3 886.8,1442.6 879.9,1440.9 868.0,1438.0 852.8,1430.4 839.5,1419.0 830.0,1409.6"/>
<polygon fill="#4BB8FA" points="870.8,1364.0 923.0,1364.0 921.1,1383.0 917.3,1396.3 909.7,1403.9 894.5,1411.5 883.1,1403.9 873.7,1394.4 870.8,1383.0"/>
<polygon fill="#75D3FD" points="830.0,1646.8 841.4,1660.1 858.5,1669.6 879.9,1680.0 896.4,1681.9 915.4,1682.9 934.4,1684.8 953.4,1686.7 962.9,1692.4 968.6,1714.0 830.0,1714.0"/>
<polygon fill="#4BB8FA" points="830.0,1644.9 835.7,1658.2 837.6,1677.2 833.8,1690.5 830.0,1694.3"/>
<polygon fill="#75D3FD" points="1019.8,1409.6 1031.2,1400.1 1040.7,1394.4 1057.8,1397.2 1069.2,1390.6 1074.8,1383.0 1076.7,1364.0 1130.1,1364.0 1130.1,1477.9 1118.5,1476.0 1109.0,1470.3 1101.4,1462.7 1086.2,1471.2 1086.2,1487.4 1087.2,1506.4 1090.0,1525.3 1093.8,1544.3 1095.7,1563.3 1097.6,1582.3 1099.5,1601.3 1100.5,1620.2 1101.4,1639.2 1101.4,1658.2 1099.5,1677.2 1095.7,1690.5 1091.9,1700.0 1095.7,1714.0 1046.4,1714.0 1035.0,1700.0 1029.3,1686.7 1023.6,1667.7 1017.9,1648.7 1012.2,1629.7 1006.5,1610.7 1002.7,1591.8 999.9,1572.8 998.0,1553.8 997.0,1534.8 997.0,1515.8 997.0,1496.9 998.0,1477.9 1000.8,1458.9 1004.6,1443.7 1010.3,1426.6"/>
<polygon fill="#75D3FD" points="1130.1,1610.7 1122.3,1629.7 1118.5,1648.7 1116.6,1667.7 1112.8,1686.7 1110.9,1700.0 1110.9,1714.0 1130.1,1714.0"/>
<polygon fill="#4BB8FA" points="1101.4,1364.0 1130.1,1364.0 1130.1,1451.3 1122.3,1447.5 1112.8,1434.2 1105.2,1415.2 1102.4,1392.5"/>
<polygon fill="#FCA103" points="1099.5,1502.6 1110.9,1500.7 1130.1,1504.5 1130.1,1639.2 1126.1,1629.7 1118.5,1610.7 1110.9,1591.8 1105.2,1572.8 1101.4,1553.8 1099.5,1534.8 1098.6,1515.8"/>
<polygon fill="#FC6400" points="1116.6,1544.3 1124.2,1534.8 1130.1,1535.8 1130.1,1601.3 1124.2,1597.5 1120.4,1582.3 1117.6,1563.3"/>
<polygon fill="#4BB8FA" points="1019.8,1426.6 1031.2,1420.9 1040.7,1418.1 1050.2,1422.8 1061.6,1434.2 1067.3,1449.4 1071.1,1468.4 1074.8,1487.4 1078.6,1506.4 1082.4,1525.3 1085.3,1544.3 1088.1,1563.3 1090.0,1582.3 1091.9,1601.3 1093.8,1620.2 1095.7,1639.2 1097.6,1658.2 1097.6,1677.2 1091.9,1690.5 1082.4,1694.3 1061.6,1696.2 1048.3,1681.0 1038.8,1663.9 1031.2,1648.7 1025.5,1629.7 1019.8,1610.7 1014.1,1591.8 1010.3,1572.8 1007.5,1553.8 1005.6,1534.8 1003.7,1515.8 1002.7,1496.9 1003.7,1477.9 1006.5,1458.9 1012.2,1439.9"/>
<polygon fill="#03A8F7" points="1019.8,1445.6 1029.3,1439.9 1038.8,1434.2 1048.3,1439.9 1057.8,1451.3 1065.4,1468.4 1069.2,1487.4 1073.0,1506.4 1075.8,1525.3 1078.6,1544.3 1081.5,1563.3 1084.3,1582.3 1086.2,1601.3 1088.1,1620.2 1089.1,1639.2 1089.1,1658.2 1084.3,1671.5 1074.8,1677.2 1061.6,1681.0 1050.2,1667.7 1040.7,1652.5 1033.1,1637.3 1027.4,1622.1 1021.7,1607.0 1017.0,1591.8 1013.2,1572.8 1010.3,1553.8 1008.4,1534.8 1007.5,1515.8 1007.5,1496.9 1008.4,1477.9 1012.2,1458.9"/>
<polygon fill="#0596F5" points="1019.8,1462.7 1031.2,1453.2 1038.8,1449.4 1048.3,1457.0 1057.8,1470.3 1063.5,1487.4 1067.3,1506.4 1071.1,1525.3 1074.8,1544.3 1077.7,1563.3 1080.5,1582.3 1082.4,1601.3 1082.4,1620.2 1080.5,1639.2 1076.7,1652.5 1067.3,1660.1 1061.6,1663.9 1050.2,1654.4 1040.7,1639.2 1033.1,1624.0 1027.4,1608.8 1021.7,1593.7 1017.9,1578.5 1014.1,1563.3 1012.2,1544.3 1011.3,1525.3 1011.3,1506.4 1013.2,1487.4 1016.0,1474.1"/>
<polygon fill="#0082F5" points="1019.8,1481.7 1029.3,1472.2 1038.8,1464.6 1046.4,1472.2 1054.0,1485.5 1059.7,1500.7 1063.5,1515.8 1067.3,1534.8 1070.1,1553.8 1073.0,1572.8 1074.8,1591.8 1074.8,1610.7 1073.0,1625.9 1067.3,1639.2 1060.6,1646.8 1054.0,1637.3 1044.5,1624.0 1036.9,1610.7 1029.3,1595.6 1023.6,1580.4 1019.8,1565.2 1017.0,1550.0 1016.0,1534.8 1016.0,1515.8 1017.0,1496.9"/>
</g>
<g clip-path="url(#k16)">
<rect x="1128" y="1369" width="494" height="345" fill="#FCA103"/>
<polygon fill="#FBBF2B" points="1125.0,1364.0 1239.1,1364.0 1236.6,1388.8 1229.2,1413.6 1224.2,1433.4 1216.8,1450.8 1206.8,1468.2 1189.5,1488.0 1174.6,1497.9 1162.2,1505.4 1149.8,1506.6 1125.0,1505.4"/>
<polygon fill="#FBBF2B" points="1236.6,1537.6 1241.6,1500.4 1251.5,1475.6 1266.4,1455.8 1278.8,1443.4 1288.7,1440.9 1303.6,1448.3 1316.0,1463.2 1328.4,1478.1 1335.8,1495.4 1343.3,1517.8 1350.7,1542.6 1356.9,1567.4 1363.1,1592.2 1368.1,1617.0 1373.0,1641.8 1375.5,1661.6 1373.0,1676.5 1363.1,1686.4 1348.2,1693.9 1333.3,1714.0 1278.8,1714.0 1266.4,1686.4 1256.4,1669.1 1249.0,1649.2 1244.0,1624.4 1240.3,1599.6 1237.8,1574.8"/>
<polygon fill="#FBBF2B" points="1325.9,1364.0 1464.8,1364.0 1463.5,1401.2 1462.3,1426.0 1459.8,1450.8 1452.4,1470.6 1440.0,1483.0 1422.6,1488.0 1402.8,1488.0 1387.9,1480.6 1373.0,1470.6 1360.6,1458.2 1348.2,1438.4 1338.3,1413.6 1330.9,1388.8"/>
<polygon fill="#FBBF2B" points="1546.6,1364.0 1583.8,1364.0 1588.8,1393.8 1596.2,1421.0 1606.2,1445.8 1618.6,1463.2 1625.0,1470.6 1625.0,1714.0 1534.2,1714.0 1521.8,1686.4 1509.4,1674.0 1499.5,1661.6 1492.1,1641.8 1487.1,1612.0 1482.1,1587.2 1477.2,1562.4 1473.5,1537.6 1472.2,1512.8 1477.2,1475.6 1489.6,1450.8 1504.5,1433.4 1521.8,1413.6 1534.2,1401.2 1546.6,1386.3"/>
<polygon fill="#FCA103" points="1589.5,1494.0 1592.8,1482.6 1598.7,1478.6 1608.6,1490.0 1620.8,1501.4 1625.0,1502.9 1625.0,1674.0 1618.6,1661.6 1611.1,1636.8 1606.2,1612.0 1601.2,1587.2 1596.2,1562.4 1592.5,1537.6 1590.0,1512.8"/>
<polygon fill="#FBBF2B" points="1363.1,1714.0 1373.0,1681.5 1378.0,1661.6 1382.9,1644.3 1392.9,1631.9 1410.2,1631.9 1435.0,1636.8 1459.8,1646.7 1477.2,1651.7 1484.6,1661.6 1487.1,1714.0"/>
<polygon fill="#75D3FD" points="1387.9,1714.0 1392.9,1686.4 1410.2,1683.9 1435.0,1683.9 1452.4,1686.4 1458.6,1714.0"/>
<polygon fill="#FC6400" points="1487.1,1714.0 1488.3,1674.0 1494.5,1656.7 1504.5,1671.5 1516.9,1683.9 1524.3,1714.0"/>
<polygon fill="#FBBF2B" points="1125.0,1641.8 1149.8,1656.7 1174.6,1666.6 1199.4,1676.5 1224.2,1683.9 1236.6,1714.0 1125.0,1714.0"/>
<polygon fill="#FC6400" points="1125.0,1535.1 1149.8,1540.1 1164.7,1545.1 1182.0,1535.1 1204.4,1517.8 1226.7,1525.2 1229.2,1550.0 1231.6,1574.8 1234.1,1599.6 1234.1,1624.4 1231.6,1644.3 1226.7,1649.2 1199.4,1634.3 1174.6,1621.9 1149.8,1612.0 1125.0,1599.6"/>
<polygon fill="#FC6400" points="1366.8,1517.8 1371.8,1514.0 1392.9,1525.2 1412.7,1530.2 1432.5,1525.2 1454.9,1511.6 1457.3,1537.6 1461.1,1562.4 1463.5,1587.2 1462.3,1599.6 1454.9,1608.3 1444.9,1599.6 1432.5,1584.7 1412.7,1582.3 1392.9,1590.9 1385.4,1579.8 1373.0,1564.9 1369.3,1550.0"/>
<polygon fill="#FC6400" points="1286.2,1388.8 1291.2,1383.8 1297.4,1392.5 1288.7,1401.2"/>
<polygon fill="#FC6400" points="1493.3,1381.4 1497.0,1388.8 1495.8,1403.7 1492.1,1391.3"/>
<polygon fill="#75D3FD" points="1125.0,1364.0 1211.8,1364.0 1211.8,1388.8 1206.8,1413.6 1199.4,1433.4 1189.5,1450.8 1174.6,1468.2 1162.2,1475.6 1144.8,1480.6 1125.0,1478.1"/>
<polygon fill="#4BB8FA" points="1125.0,1364.0 1193.2,1364.0 1192.0,1388.8 1187.0,1413.6 1179.6,1431.0 1167.2,1445.8 1149.8,1454.5 1125.0,1455.8"/>
<polygon fill="#03A8F7" points="1139.9,1383.8 1163.4,1385.1 1163.4,1393.8 1144.8,1403.7 1139.9,1393.8"/>
<polygon fill="#75D3FD" points="1343.3,1364.0 1449.9,1364.0 1449.9,1388.8 1447.4,1413.6 1442.5,1433.4 1432.5,1448.3 1417.7,1460.7 1397.8,1463.2 1385.4,1458.2 1373.0,1445.8 1363.1,1428.5 1353.2,1406.2 1347.0,1383.8"/>
<polygon fill="#4BB8FA" points="1364.3,1364.0 1433.8,1364.0 1432.5,1388.8 1427.6,1408.6 1412.7,1429.7 1392.9,1433.4 1382.9,1423.5 1373.0,1408.6 1366.8,1388.8"/>
<polygon fill="#75D3FD" points="1582.6,1364.0 1625.0,1364.0 1625.0,1477.6 1622.3,1476.4 1613.1,1464.9 1606.9,1456.0 1600.9,1446.8 1591.8,1431.7 1587.3,1414.1 1584.3,1399.0 1582.8,1380.1"/>
<polygon fill="#4BB8FA" points="1604.2,1364.0 1625.0,1364.0 1625.0,1448.8 1616.1,1437.7 1610.1,1421.8 1606.2,1402.7 1604.7,1379.9"/>
<polygon fill="#75D3FD" points="1244.0,1537.6 1249.0,1500.4 1258.9,1480.6 1273.8,1465.7 1288.7,1458.2 1303.6,1468.2 1313.5,1480.6 1323.4,1500.4 1333.3,1525.2 1340.8,1550.0 1348.2,1574.8 1355.7,1599.6 1360.6,1624.4 1365.6,1649.2 1370.5,1669.1 1365.6,1683.9 1353.2,1691.4 1338.3,1714.0 1283.7,1714.0 1273.8,1686.4 1266.4,1674.0 1258.9,1656.7 1254.0,1636.8 1250.2,1612.0 1247.8,1587.2 1245.3,1562.4"/>
<polygon fill="#4BB8FA" points="1251.5,1537.6 1256.4,1507.8 1266.4,1488.0 1278.8,1476.8 1288.7,1471.9 1303.6,1483.0 1316.0,1500.4 1325.9,1525.2 1333.3,1550.0 1340.8,1574.8 1348.2,1599.6 1354.4,1624.4 1358.1,1649.2 1358.1,1669.1 1345.7,1679.0 1323.4,1686.4 1308.5,1688.9 1293.7,1681.5 1278.8,1671.5 1268.8,1656.7 1262.6,1636.8 1258.9,1612.0 1256.4,1587.2 1254.0,1562.4"/>
<polygon fill="#03A8F7" points="1258.9,1537.6 1263.9,1512.8 1273.8,1495.4 1288.7,1483.0 1303.6,1497.9 1316.0,1517.8 1325.9,1542.6 1333.3,1567.4 1340.8,1592.2 1345.7,1617.0 1348.2,1641.8 1345.7,1661.6 1333.3,1671.5 1311.0,1679.0 1293.7,1669.1 1281.2,1656.7 1273.8,1641.8 1267.6,1621.9 1263.9,1599.6 1261.4,1574.8 1260.2,1552.5"/>
<polygon fill="#0596F5" points="1266.4,1537.6 1271.3,1517.8 1278.8,1502.9 1288.7,1494.2 1301.1,1505.4 1313.5,1525.2 1323.4,1550.0 1330.9,1574.8 1337.1,1599.6 1340.8,1624.4 1340.8,1644.3 1333.3,1656.7 1313.5,1664.1 1298.6,1656.7 1286.2,1646.7 1278.8,1631.9 1273.8,1612.0 1270.1,1587.2 1267.6,1562.4"/>
<polygon fill="#0082F5" points="1268.8,1537.6 1273.8,1520.2 1288.7,1507.8 1303.6,1522.7 1316.0,1545.1 1323.4,1569.9 1328.4,1594.7 1328.4,1619.5 1323.4,1631.9 1308.5,1646.7 1293.7,1636.8 1283.7,1624.4 1278.8,1607.1 1275.0,1587.2 1271.3,1562.4"/>
<polygon fill="#75D3FD" points="1479.7,1512.8 1484.6,1480.6 1497.0,1448.3 1511.9,1432.2 1526.8,1425.5 1537.9,1424.0 1551.6,1430.5 1564.0,1440.9 1568.9,1463.2 1573.9,1488.0 1578.9,1512.8 1583.8,1537.6 1588.8,1562.4 1593.8,1587.2 1598.7,1612.0 1603.7,1636.8 1607.4,1661.6 1611.1,1686.4 1612.4,1714.0 1544.1,1714.0 1531.7,1686.4 1519.3,1674.0 1509.4,1661.6 1502.0,1641.8 1494.5,1617.0 1489.6,1592.2 1484.6,1567.4 1480.9,1542.6"/>
<polygon fill="#4BB8FA" points="1487.1,1512.8 1492.1,1488.0 1502.0,1470.6 1516.9,1455.8 1537.9,1440.9 1556.5,1455.8 1566.5,1475.6 1571.4,1500.4 1576.4,1525.2 1581.3,1550.0 1586.3,1574.8 1591.3,1599.6 1595.0,1624.4 1597.5,1649.2 1597.5,1671.5 1591.3,1686.4 1581.3,1691.4 1561.5,1688.9 1546.6,1679.0 1531.7,1669.1 1519.3,1654.2 1509.4,1634.3 1502.0,1612.0 1497.0,1587.2 1492.1,1562.4 1488.3,1537.6"/>
<polygon fill="#03A8F7" points="1492.1,1517.8 1497.0,1493.0 1506.9,1478.1 1521.8,1465.7 1537.9,1455.8 1554.1,1470.6 1564.0,1493.0 1568.9,1517.8 1573.9,1542.6 1578.9,1567.4 1583.8,1592.2 1586.3,1617.0 1587.5,1641.8 1585.1,1661.6 1571.4,1669.1 1556.5,1669.1 1541.7,1661.6 1529.3,1649.2 1519.3,1631.9 1511.9,1612.0 1504.5,1587.2 1499.5,1562.4 1494.5,1537.6"/>
<polygon fill="#0596F5" points="1497.0,1517.8 1502.0,1500.4 1514.4,1483.0 1526.8,1473.1 1537.9,1468.2 1551.6,1483.0 1560.3,1502.9 1564.0,1525.2 1568.9,1550.0 1573.9,1574.8 1577.6,1599.6 1580.1,1624.4 1580.1,1644.3 1568.9,1651.7 1556.5,1649.2 1541.7,1641.8 1529.3,1626.9 1519.3,1609.5 1511.9,1587.2 1505.7,1562.4 1500.7,1537.6"/>
<polygon fill="#0082F5" points="1502.0,1522.7 1506.9,1505.4 1519.3,1488.0 1531.7,1480.6 1544.1,1493.0 1554.1,1512.8 1560.3,1537.6 1564.0,1562.4 1566.5,1587.2 1566.5,1612.0 1564.0,1626.9 1554.1,1629.4 1541.7,1624.4 1531.7,1612.0 1521.8,1594.7 1515.6,1574.8 1510.7,1555.0 1505.7,1537.6"/>
</g>
<g clip-path="url(#k17)">
<rect x="1622" y="1369" width="503" height="345" fill="#FCA103"/>
<polygon fill="#FBBF2B" points="1620.0,1364.0 1737.7,1364.0 1739.0,1384.0 1744.0,1395.3 1765.3,1390.3 1785.3,1404.1 1800.4,1421.6 1810.4,1439.1 1817.9,1459.2 1822.9,1479.2 1827.9,1501.8 1832.9,1526.8 1840.4,1551.9 1848.0,1576.9 1855.5,1602.0 1865.5,1622.0 1880.5,1634.5 1895.5,1644.6 1920.6,1652.1 1945.6,1657.1 1970.7,1664.6 1980.7,1677.1 1983.2,1713.9 1760.3,1713.9 1752.8,1677.1 1745.2,1652.1 1740.2,1627.0 1735.2,1602.0 1731.5,1576.9 1727.7,1551.9 1722.7,1526.8 1715.2,1504.3 1702.7,1493.0 1695.1,1499.3 1670.1,1511.8 1645.0,1514.3 1620.0,1504.3"/>
<polygon fill="#FBBF2B" points="1820.4,1364.0 1961.9,1364.0 1960.7,1401.6 1955.7,1431.6 1948.1,1451.7 1935.6,1466.7 1920.6,1476.7 1903.1,1479.2 1885.5,1476.7 1870.5,1469.2 1855.5,1456.7 1840.4,1436.6 1830.4,1414.1 1822.9,1389.0"/>
<polygon fill="#FBBF2B" points="1975.7,1514.3 1978.2,1476.7 1988.2,1446.7 2000.8,1429.1 2014.5,1417.9 2030.8,1421.6 2043.3,1431.6 2053.4,1444.2 2060.9,1459.2 2068.4,1479.2 2073.4,1504.3 2078.4,1529.3 2083.4,1554.4 2088.4,1579.4 2093.4,1604.5 2098.4,1629.5 2103.5,1654.6 2108.5,1679.6 2112.2,1713.9 2020.8,1713.9 2013.3,1687.1 2003.3,1672.1 1993.2,1652.1 1985.7,1627.0 1980.7,1602.0 1978.2,1576.9 1975.7,1551.9"/>
<polygon fill="#FBBF2B" points="2068.4,1364.0 2125.0,1364.0 2125.0,1459.2 2103.5,1454.2 2090.9,1444.2 2080.9,1431.6 2074.7,1414.1 2070.9,1389.0"/>
<polygon fill="#FC6400" points="1632.5,1568.2 1642.5,1561.9 1662.6,1568.2 1682.6,1554.4 1702.7,1538.1 1712.7,1554.4 1722.7,1571.9 1727.7,1589.4 1730.2,1614.5 1732.7,1639.5 1732.7,1657.1 1722.7,1664.6 1707.7,1652.1 1687.6,1634.5 1670.1,1619.5 1650.1,1604.5 1640.0,1597.0 1635.0,1581.9"/>
<polygon fill="#FC6400" points="1837.9,1486.7 1848.0,1475.5 1860.5,1486.7 1873.0,1499.3 1888.0,1509.3 1910.6,1519.3 1933.1,1516.8 1953.2,1509.3 1958.2,1534.3 1963.2,1559.4 1966.9,1584.4 1969.4,1612.0 1960.7,1614.5 1948.1,1607.0 1928.1,1597.0 1908.1,1594.5 1888.0,1594.5 1875.5,1584.4 1868.0,1574.4 1858.0,1561.9 1848.0,1549.4 1842.9,1526.8 1839.2,1504.3"/>
<polygon fill="#FC6400" points="2098.4,1528.1 2125.0,1524.3 2125.0,1576.9 2108.5,1561.9 2103.5,1544.4"/>
<polygon fill="#FC6400" points="1990.7,1713.9 1993.2,1687.1 2008.3,1692.1 2018.3,1713.9"/>
<polygon fill="#75D3FD" points="1620.0,1364.0 1710.2,1364.0 1711.4,1389.0 1710.2,1414.1 1705.2,1434.1 1695.1,1454.2 1680.1,1475.7 1666.3,1481.0 1655.1,1485.5 1642.5,1486.7 1635.0,1483.0 1620.0,1475.5"/>
<polygon fill="#4BB8FA" points="1620.0,1364.0 1690.1,1364.0 1691.4,1389.0 1690.1,1414.1 1685.1,1431.6 1680.1,1440.7 1672.4,1445.9 1662.6,1454.4 1651.1,1458.9 1642.0,1461.2 1635.8,1457.4 1623.8,1448.2 1620.0,1446.7"/>
<polygon fill="#03A8F7" points="1635.0,1364.0 1662.6,1364.0 1665.1,1379.0 1665.1,1401.6 1660.1,1414.1 1640.0,1420.4 1633.8,1401.6 1633.8,1384.0"/>
<polygon fill="#75D3FD" points="1842.9,1364.0 1943.1,1364.0 1943.1,1389.0 1940.6,1409.1 1933.1,1429.1 1923.1,1444.2 1910.6,1454.2 1895.5,1460.4 1883.0,1459.2 1868.0,1449.2 1858.0,1436.6 1850.5,1419.1 1845.4,1396.6"/>
<polygon fill="#4BB8FA" points="1865.5,1364.0 1924.4,1364.0 1924.4,1389.0 1920.6,1406.6 1910.6,1424.1 1890.5,1430.4 1880.5,1421.6 1870.5,1404.1 1866.7,1384.0"/>
<polygon fill="#75D3FD" points="2088.4,1364.0 2125.0,1364.0 2125.0,1459.2 2103.5,1446.7 2095.9,1431.6 2090.9,1409.1 2088.4,1384.0"/>
<polygon fill="#4BB8FA" points="2108.5,1364.0 2125.0,1364.0 2125.0,1426.6 2108.5,1401.6"/>
<polygon fill="#75D3FD" points="1730.2,1489.2 1732.7,1464.2 1740.2,1446.7 1752.8,1431.6 1765.3,1424.1 1782.8,1429.1 1795.3,1444.2 1805.4,1464.2 1812.9,1484.2 1820.4,1506.8 1827.9,1531.8 1835.4,1556.9 1842.9,1581.9 1850.5,1604.5 1860.5,1624.5 1868.0,1639.5 1875.5,1657.1 1880.5,1672.1 1878.0,1713.9 1770.3,1713.9 1765.3,1687.1 1757.8,1664.6 1750.3,1639.5 1744.0,1614.5 1739.0,1589.4 1735.2,1564.4 1732.7,1539.3 1730.2,1514.3"/>
<polygon fill="#75D3FD" points="1878.0,1713.9 1880.5,1679.6 1895.5,1677.1 1920.6,1679.6 1945.6,1684.6 1963.2,1689.6 1968.2,1713.9"/>
<polygon fill="#4BB8FA" points="1737.7,1489.2 1740.2,1469.2 1750.3,1451.7 1765.3,1435.4 1780.3,1439.1 1792.8,1454.2 1802.9,1474.2 1810.4,1496.8 1817.9,1521.8 1825.4,1546.9 1832.9,1571.9 1840.4,1597.0 1848.0,1622.0 1855.5,1644.6 1860.5,1664.6 1861.7,1679.6 1850.5,1692.1 1835.4,1713.9 1777.8,1713.9 1770.3,1684.6 1762.8,1664.6 1756.5,1639.5 1750.3,1614.5 1745.2,1589.4 1741.5,1564.4 1739.0,1539.3 1737.7,1514.3"/>
<polygon fill="#03A8F7" points="1742.7,1489.2 1747.8,1469.2 1757.8,1454.2 1767.8,1446.7 1782.8,1451.7 1795.3,1469.2 1804.1,1489.2 1811.6,1514.3 1819.1,1539.3 1826.7,1564.4 1834.2,1589.4 1840.4,1614.5 1846.7,1639.5 1848.0,1664.6 1840.4,1679.6 1820.4,1689.6 1805.4,1694.7 1792.8,1684.6 1780.3,1672.1 1770.3,1652.1 1762.8,1627.0 1756.5,1602.0 1751.5,1576.9 1746.5,1551.9 1744.0,1526.8"/>
<polygon fill="#0596F5" points="1745.2,1494.3 1752.8,1474.2 1765.3,1461.7 1780.3,1459.2 1792.8,1474.2 1801.6,1494.3 1809.1,1519.3 1816.6,1544.4 1824.2,1569.4 1831.7,1594.5 1837.9,1619.5 1841.7,1644.6 1837.9,1662.1 1822.9,1672.1 1807.9,1679.6 1795.3,1672.1 1782.8,1659.6 1772.8,1639.5 1765.3,1614.5 1759.0,1589.4 1754.0,1564.4 1749.0,1539.3 1746.5,1514.3"/>
<polygon fill="#0082F5" points="1750.3,1504.3 1757.8,1481.7 1767.8,1471.7 1780.3,1469.2 1790.3,1481.7 1797.9,1501.8 1805.4,1526.8 1812.9,1551.9 1820.4,1576.9 1825.4,1602.0 1826.7,1627.0 1822.9,1647.1 1807.9,1664.6 1795.3,1654.6 1782.8,1642.1 1775.3,1624.5 1767.8,1602.0 1761.5,1576.9 1756.5,1551.9 1752.8,1526.8"/>
<polygon fill="#75D3FD" points="1980.7,1514.3 1983.2,1481.7 1993.2,1456.7 2003.3,1441.7 2014.5,1431.6 2030.8,1436.6 2043.3,1446.7 2053.4,1459.2 2060.9,1476.7 2065.9,1496.8 2070.9,1521.8 2075.9,1546.9 2080.9,1571.9 2085.9,1597.0 2090.9,1622.0 2095.9,1647.1 2101.0,1672.1 2106.0,1713.9 2045.8,1713.9 2033.3,1687.1 2020.8,1669.6 2010.8,1652.1 2000.8,1629.5 1993.2,1604.5 1988.2,1579.4 1984.5,1554.4 1982.0,1534.3"/>
<polygon fill="#4BB8FA" points="1985.7,1514.3 1988.2,1489.2 1995.7,1466.7 2005.8,1451.7 2014.5,1445.4 2028.3,1449.2 2040.8,1461.7 2050.9,1476.7 2058.4,1496.8 2063.4,1519.3 2068.4,1544.4 2073.4,1569.4 2078.4,1594.5 2083.4,1619.5 2088.4,1644.6 2090.9,1664.6 2085.9,1677.1 2070.9,1684.6 2055.9,1682.1 2043.3,1672.1 2030.8,1657.1 2018.3,1637.0 2008.3,1614.5 2000.8,1589.4 1994.5,1564.4 1989.5,1539.3"/>
<polygon fill="#03A8F7" points="1989.5,1519.3 1993.2,1494.3 2000.8,1474.2 2013.3,1459.2 2025.8,1461.7 2038.3,1474.2 2048.3,1491.8 2055.9,1511.8 2060.9,1536.8 2065.9,1561.9 2070.9,1586.9 2075.9,1612.0 2079.7,1637.0 2080.9,1654.6 2070.9,1664.6 2055.9,1667.1 2040.8,1657.1 2028.3,1642.1 2018.3,1624.5 2010.8,1602.0 2003.3,1576.9 1997.0,1551.9 1992.0,1534.3"/>
<polygon fill="#0596F5" points="1993.2,1524.3 1995.7,1501.8 2003.3,1481.7 2015.8,1469.2 2028.3,1474.2 2038.3,1489.2 2047.1,1509.3 2053.4,1531.8 2058.4,1556.9 2063.4,1581.9 2068.4,1607.0 2072.1,1632.0 2070.9,1649.6 2058.4,1659.6 2045.8,1652.1 2033.3,1637.0 2023.3,1619.5 2014.5,1597.0 2007.0,1571.9 2000.8,1549.4 1995.7,1536.8"/>
<polygon fill="#0082F5" points="1997.0,1526.8 2000.8,1504.3 2008.3,1486.7 2018.3,1479.2 2030.8,1486.7 2040.8,1504.3 2048.3,1526.8 2054.6,1551.9 2059.6,1576.9 2063.4,1602.0 2064.6,1627.0 2060.9,1639.5 2048.3,1642.1 2035.8,1629.5 2025.8,1612.0 2017.0,1589.4 2010.8,1566.9 2004.5,1546.9"/>
</g>
</g>
<line x1="271.9" y1="144.2" x2="271.9" y2="791.4" stroke="#A9A9A9" stroke-width="7" stroke-linecap="round" stroke-dasharray="4 31.7"/>
<line x1="394.9" y1="144.2" x2="394.9" y2="791.4" stroke="#A9A9A9" stroke-width="7" stroke-linecap="round" stroke-dasharray="4 31.7"/>
<line x1="517.9" y1="144.2" x2="517.9" y2="791.4" stroke="#A9A9A9" stroke-width="7" stroke-linecap="round" stroke-dasharray="4 31.7"/>
<line x1="640.9" y1="144.2" x2="640.9" y2="791.4" stroke="#A9A9A9" stroke-width="7" stroke-linecap="round" stroke-dasharray="4 31.7"/>
<line x1="763.9" y1="144.2" x2="763.9" y2="791.4" stroke="#A9A9A9" stroke-width="7" stroke-linecap="round" stroke-dasharray="4 31.7"/>
<line x1="886.9" y1="144.2" x2="886.9" y2="791.4" stroke="#A9A9A9" stroke-width="7" stroke-linecap="round" stroke-dasharray="4 31.7"/>
<line x1="1010.0" y1="144.2" x2="1010.0" y2="791.4" stroke="#A9A9A9" stroke-width="7" stroke-linecap="round" stroke-dasharray="4 31.7"/>
<line x1="1133.0" y1="144.2" x2="1133.0" y2="791.4" stroke="#A9A9A9" stroke-width="7" stroke-linecap="round" stroke-dasharray="4 31.7"/>
<line x1="1256.0" y1="144.2" x2="1256.0" y2="791.4" stroke="#A9A9A9" stroke-width="7" stroke-linecap="round" stroke-dasharray="4 31.7"/>
<line x1="1379.0" y1="144.2" x2="1379.0" y2="791.4" stroke="#A9A9A9" stroke-width="7" stroke-linecap="round" stroke-dasharray="4 31.7"/>
<line x1="1502.0" y1="144.2" x2="1502.0" y2="791.4" stroke="#A9A9A9" stroke-width="7" stroke-linecap="round" stroke-dasharray="4 31.7"/>
<line x1="1625.0" y1="144.2" x2="1625.0" y2="791.4" stroke="#A9A9A9" stroke-width="7" stroke-linecap="round" stroke-dasharray="4 31.7"/>
<line x1="1748.1" y1="144.2" x2="1748.1" y2="791.4" stroke="#A9A9A9" stroke-width="7" stroke-linecap="round" stroke-dasharray="4 31.7"/>
<line x1="1871.1" y1="144.2" x2="1871.1" y2="791.4" stroke="#A9A9A9" stroke-width="7" stroke-linecap="round" stroke-dasharray="4 31.7"/>
<line x1="1994.1" y1="144.2" x2="1994.1" y2="791.4" stroke="#A9A9A9" stroke-width="7" stroke-linecap="round" stroke-dasharray="4 31.7"/>
<line x1="148.5" y1="707.0" x2="2113.1" y2="707.0" stroke="#A9A9A9" stroke-width="7" stroke-linecap="round" stroke-dasharray="4 31.44"/>
<line x1="148.5" y1="622.6" x2="2113.1" y2="622.6" stroke="#A9A9A9" stroke-width="7" stroke-linecap="round" stroke-dasharray="4 31.44"/>
<line x1="148.5" y1="538.2" x2="2113.1" y2="538.2" stroke="#A9A9A9" stroke-width="7" stroke-linecap="round" stroke-dasharray="4 31.44"/>
<line x1="148.5" y1="453.8" x2="2113.1" y2="453.8" stroke="#A9A9A9" stroke-width="7" stroke-linecap="round" stroke-dasharray="4 31.44"/>
<line x1="148.5" y1="369.3" x2="2113.1" y2="369.3" stroke="#A9A9A9" stroke-width="7" stroke-linecap="round" stroke-dasharray="4 31.44"/>
<line x1="148.5" y1="284.9" x2="2113.1" y2="284.9" stroke="#A9A9A9" stroke-width="7" stroke-linecap="round" stroke-dasharray="4 31.44"/>
<line x1="148.5" y1="200.5" x2="2113.1" y2="200.5" stroke="#A9A9A9" stroke-width="7" stroke-linecap="round" stroke-dasharray="4 31.44"/>
<rect x="148.85" y="116.1" width="1968.2" height="675.3" fill="none" stroke="#000" stroke-width="9"/>
<line x1="129" y1="791.4" x2="148.85" y2="791.4" stroke="#000" stroke-width="8" stroke-linecap="round"/>
<line x1="129" y1="707.0" x2="148.85" y2="707.0" stroke="#000" stroke-width="8" stroke-linecap="round"/>
<line x1="129" y1="622.6" x2="148.85" y2="622.6" stroke="#000" stroke-width="8" stroke-linecap="round"/>
<line x1="129" y1="538.2" x2="148.85" y2="538.2" stroke="#000" stroke-width="8" stroke-linecap="round"/>
<line x1="129" y1="453.8" x2="148.85" y2="453.8" stroke="#000" stroke-width="8" stroke-linecap="round"/>
<line x1="129" y1="369.3" x2="148.85" y2="369.3" stroke="#000" stroke-width="8" stroke-linecap="round"/>
<line x1="129" y1="284.9" x2="148.85" y2="284.9" stroke="#000" stroke-width="8" stroke-linecap="round"/>
<line x1="129" y1="200.5" x2="148.85" y2="200.5" stroke="#000" stroke-width="8" stroke-linecap="round"/>
<line x1="129" y1="116.1" x2="148.85" y2="116.1" stroke="#000" stroke-width="8" stroke-linecap="round"/>
<line x1="148.8" y1="791.4" x2="148.8" y2="808.9" stroke="#000" stroke-width="8" stroke-linecap="round"/>
<line x1="271.9" y1="791.4" x2="271.9" y2="808.9" stroke="#000" stroke-width="8" stroke-linecap="round"/>
<line x1="394.9" y1="791.4" x2="394.9" y2="808.9" stroke="#000" stroke-width="8" stroke-linecap="round"/>
<line x1="517.9" y1="791.4" x2="517.9" y2="808.9" stroke="#000" stroke-width="8" stroke-linecap="round"/>
<line x1="640.9" y1="791.4" x2="640.9" y2="808.9" stroke="#000" stroke-width="8" stroke-linecap="round"/>
<line x1="763.9" y1="791.4" x2="763.9" y2="808.9" stroke="#000" stroke-width="8" stroke-linecap="round"/>
<line x1="886.9" y1="791.4" x2="886.9" y2="808.9" stroke="#000" stroke-width="8" stroke-linecap="round"/>
<line x1="1010.0" y1="791.4" x2="1010.0" y2="808.9" stroke="#000" stroke-width="8" stroke-linecap="round"/>
<line x1="1133.0" y1="791.4" x2="1133.0" y2="808.9" stroke="#000" stroke-width="8" stroke-linecap="round"/>
<line x1="1256.0" y1="791.4" x2="1256.0" y2="808.9" stroke="#000" stroke-width="8" stroke-linecap="round"/>
<line x1="1379.0" y1="791.4" x2="1379.0" y2="808.9" stroke="#000" stroke-width="8" stroke-linecap="round"/>
<line x1="1502.0" y1="791.4" x2="1502.0" y2="808.9" stroke="#000" stroke-width="8" stroke-linecap="round"/>
<line x1="1625.0" y1="791.4" x2="1625.0" y2="808.9" stroke="#000" stroke-width="8" stroke-linecap="round"/>
<line x1="1748.1" y1="791.4" x2="1748.1" y2="808.9" stroke="#000" stroke-width="8" stroke-linecap="round"/>
<line x1="1871.1" y1="791.4" x2="1871.1" y2="808.9" stroke="#000" stroke-width="8" stroke-linecap="round"/>
<line x1="1994.1" y1="791.4" x2="1994.1" y2="808.9" stroke="#000" stroke-width="8" stroke-linecap="round"/>
<line x1="2117.1" y1="791.4" x2="2117.1" y2="808.9" stroke="#000" stroke-width="8" stroke-linecap="round"/>
<line x1="271.9" y1="1058.0" x2="271.9" y2="1705.2" stroke="#A9A9A9" stroke-width="7" stroke-linecap="round" stroke-dasharray="4 31.7"/>
<line x1="394.9" y1="1058.0" x2="394.9" y2="1705.2" stroke="#A9A9A9" stroke-width="7" stroke-linecap="round" stroke-dasharray="4 31.7"/>
<line x1="517.9" y1="1058.0" x2="517.9" y2="1705.2" stroke="#A9A9A9" stroke-width="7" stroke-linecap="round" stroke-dasharray="4 31.7"/>
<line x1="640.9" y1="1058.0" x2="640.9" y2="1705.2" stroke="#A9A9A9" stroke-width="7" stroke-linecap="round" stroke-dasharray="4 31.7"/>
<line x1="763.9" y1="1058.0" x2="763.9" y2="1705.2" stroke="#A9A9A9" stroke-width="7" stroke-linecap="round" stroke-dasharray="4 31.7"/>
<line x1="886.9" y1="1058.0" x2="886.9" y2="1705.2" stroke="#A9A9A9" stroke-width="7" stroke-linecap="round" stroke-dasharray="4 31.7"/>
<line x1="1010.0" y1="1058.0" x2="1010.0" y2="1705.2" stroke="#A9A9A9" stroke-width="7" stroke-linecap="round" stroke-dasharray="4 31.7"/>
<line x1="1133.0" y1="1058.0" x2="1133.0" y2="1705.2" stroke="#A9A9A9" stroke-width="7" stroke-linecap="round" stroke-dasharray="4 31.7"/>
<line x1="1256.0" y1="1058.0" x2="1256.0" y2="1705.2" stroke="#A9A9A9" stroke-width="7" stroke-linecap="round" stroke-dasharray="4 31.7"/>
<line x1="1379.0" y1="1058.0" x2="1379.0" y2="1705.2" stroke="#A9A9A9" stroke-width="7" stroke-linecap="round" stroke-dasharray="4 31.7"/>
<line x1="1502.0" y1="1058.0" x2="1502.0" y2="1705.2" stroke="#A9A9A9" stroke-width="7" stroke-linecap="round" stroke-dasharray="4 31.7"/>
<line x1="1625.0" y1="1058.0" x2="1625.0" y2="1705.2" stroke="#A9A9A9" stroke-width="7" stroke-linecap="round" stroke-dasharray="4 31.7"/>
<line x1="1748.1" y1="1058.0" x2="1748.1" y2="1705.2" stroke="#A9A9A9" stroke-width="7" stroke-linecap="round" stroke-dasharray="4 31.7"/>
<line x1="1871.1" y1="1058.0" x2="1871.1" y2="1705.2" stroke="#A9A9A9" stroke-width="7" stroke-linecap="round" stroke-dasharray="4 31.7"/>
<line x1="1994.1" y1="1058.0" x2="1994.1" y2="1705.2" stroke="#A9A9A9" stroke-width="7" stroke-linecap="round" stroke-dasharray="4 31.7"/>
<line x1="148.5" y1="1620.8" x2="2113.1" y2="1620.8" stroke="#A9A9A9" stroke-width="7" stroke-linecap="round" stroke-dasharray="4 31.44"/>
<line x1="148.5" y1="1536.4" x2="2113.1" y2="1536.4" stroke="#A9A9A9" stroke-width="7" stroke-linecap="round" stroke-dasharray="4 31.44"/>
<line x1="148.5" y1="1452.0" x2="2113.1" y2="1452.0" stroke="#A9A9A9" stroke-width="7" stroke-linecap="round" stroke-dasharray="4 31.44"/>
<line x1="148.5" y1="1367.5" x2="2113.1" y2="1367.5" stroke="#A9A9A9" stroke-width="7" stroke-linecap="round" stroke-dasharray="4 31.44"/>
<line x1="148.5" y1="1283.1" x2="2113.1" y2="1283.1" stroke="#A9A9A9" stroke-width="7" stroke-linecap="round" stroke-dasharray="4 31.44"/>
<line x1="148.5" y1="1198.7" x2="2113.1" y2="1198.7" stroke="#A9A9A9" stroke-width="7" stroke-linecap="round" stroke-dasharray="4 31.44"/>
<line x1="148.5" y1="1114.3" x2="2113.1" y2="1114.3" stroke="#A9A9A9" stroke-width="7" stroke-linecap="round" stroke-dasharray="4 31.44"/>
<rect x="148.85" y="1029.9" width="1968.2" height="675.3" fill="none" stroke="#000" stroke-width="9"/>
<line x1="129" y1="1705.2" x2="148.85" y2="1705.2" stroke="#000" stroke-width="8" stroke-linecap="round"/>
<line x1="129" y1="1620.8" x2="148.85" y2="1620.8" stroke="#000" stroke-width="8" stroke-linecap="round"/>
<line x1="129" y1="1536.4" x2="148.85" y2="1536.4" stroke="#000" stroke-width="8" stroke-linecap="round"/>
<line x1="129" y1="1452.0" x2="148.85" y2="1452.0" stroke="#000" stroke-width="8" stroke-linecap="round"/>
<line x1="129" y1="1367.5" x2="148.85" y2="1367.5" stroke="#000" stroke-width="8" stroke-linecap="round"/>
<line x1="129" y1="1283.1" x2="148.85" y2="1283.1" stroke="#000" stroke-width="8" stroke-linecap="round"/>
<line x1="129" y1="1198.7" x2="148.85" y2="1198.7" stroke="#000" stroke-width="8" stroke-linecap="round"/>
<line x1="129" y1="1114.3" x2="148.85" y2="1114.3" stroke="#000" stroke-width="8" stroke-linecap="round"/>
<line x1="129" y1="1029.9" x2="148.85" y2="1029.9" stroke="#000" stroke-width="8" stroke-linecap="round"/>
<line x1="148.8" y1="1705.2" x2="148.8" y2="1722.7" stroke="#000" stroke-width="8" stroke-linecap="round"/>
<line x1="271.9" y1="1705.2" x2="271.9" y2="1722.7" stroke="#000" stroke-width="8" stroke-linecap="round"/>
<line x1="394.9" y1="1705.2" x2="394.9" y2="1722.7" stroke="#000" stroke-width="8" stroke-linecap="round"/>
<line x1="517.9" y1="1705.2" x2="517.9" y2="1722.7" stroke="#000" stroke-width="8" stroke-linecap="round"/>
<line x1="640.9" y1="1705.2" x2="640.9" y2="1722.7" stroke="#000" stroke-width="8" stroke-linecap="round"/>
<line x1="763.9" y1="1705.2" x2="763.9" y2="1722.7" stroke="#000" stroke-width="8" stroke-linecap="round"/>
<line x1="886.9" y1="1705.2" x2="886.9" y2="1722.7" stroke="#000" stroke-width="8" stroke-linecap="round"/>
<line x1="1010.0" y1="1705.2" x2="1010.0" y2="1722.7" stroke="#000" stroke-width="8" stroke-linecap="round"/>
<line x1="1133.0" y1="1705.2" x2="1133.0" y2="1722.7" stroke="#000" stroke-width="8" stroke-linecap="round"/>
<line x1="1256.0" y1="1705.2" x2="1256.0" y2="1722.7" stroke="#000" stroke-width="8" stroke-linecap="round"/>
<line x1="1379.0" y1="1705.2" x2="1379.0" y2="1722.7" stroke="#000" stroke-width="8" stroke-linecap="round"/>
<line x1="1502.0" y1="1705.2" x2="1502.0" y2="1722.7" stroke="#000" stroke-width="8" stroke-linecap="round"/>
<line x1="1625.0" y1="1705.2" x2="1625.0" y2="1722.7" stroke="#000" stroke-width="8" stroke-linecap="round"/>
<line x1="1748.1" y1="1705.2" x2="1748.1" y2="1722.7" stroke="#000" stroke-width="8" stroke-linecap="round"/>
<line x1="1871.1" y1="1705.2" x2="1871.1" y2="1722.7" stroke="#000" stroke-width="8" stroke-linecap="round"/>
<line x1="1994.1" y1="1705.2" x2="1994.1" y2="1722.7" stroke="#000" stroke-width="8" stroke-linecap="round"/>
<line x1="2117.1" y1="1705.2" x2="2117.1" y2="1722.7" stroke="#000" stroke-width="8" stroke-linecap="round"/>
<rect x="262.7" y="1832.2" width="174.1" height="50.8" fill="#0082F5"/>
<rect x="436.8" y="1832.2" width="174.1" height="50.8" fill="#0596F5"/>
<rect x="611.0" y="1832.2" width="174.1" height="50.8" fill="#03A8F7"/>
<rect x="785.1" y="1832.2" width="174.1" height="50.8" fill="#4BB8FA"/>
<rect x="959.2" y="1832.2" width="174.1" height="50.8" fill="#75D3FD"/>
<rect x="1133.3" y="1832.2" width="174.1" height="50.8" fill="#FBBF2B"/>
<rect x="1307.5" y="1832.2" width="174.1" height="50.8" fill="#FCA103"/>
<rect x="1481.6" y="1832.2" width="174.1" height="50.8" fill="#FC6400"/>
<rect x="1655.7" y="1832.2" width="174.1" height="50.8" fill="#FC3200"/>
<rect x="1829.9" y="1832.2" width="174.1" height="50.8" fill="#FC0F00"/>
<rect x="262.7" y="1832.2" width="1741.3" height="50.8" fill="none" stroke="#000" stroke-width="8.7"/>
<line x1="436.8" y1="1832.2" x2="436.8" y2="1883" stroke="#000" stroke-width="8.5"/>
<line x1="611.0" y1="1832.2" x2="611.0" y2="1883" stroke="#000" stroke-width="8.5"/>
<line x1="785.1" y1="1832.2" x2="785.1" y2="1883" stroke="#000" stroke-width="8.5"/>
<line x1="959.2" y1="1832.2" x2="959.2" y2="1883" stroke="#000" stroke-width="8.5"/>
<line x1="1133.3" y1="1832.2" x2="1133.3" y2="1883" stroke="#000" stroke-width="8.5"/>
<line x1="1307.5" y1="1832.2" x2="1307.5" y2="1883" stroke="#000" stroke-width="8.5"/>
<line x1="1481.6" y1="1832.2" x2="1481.6" y2="1883" stroke="#000" stroke-width="8.5"/>
<line x1="1655.7" y1="1832.2" x2="1655.7" y2="1883" stroke="#000" stroke-width="8.5"/>
<line x1="1829.9" y1="1832.2" x2="1829.9" y2="1883" stroke="#000" stroke-width="8.5"/>
<text x="28.1" y="79.2" font-family='"DejaVu Serif", serif' font-weight="bold" font-size="61" textLength="99.3" lengthAdjust="spacingAndGlyphs">km</text>
<text x="186.9" y="83.4" font-family='"DejaVu Serif", serif' font-weight="bold" font-size="68.5" textLength="96.9" lengthAdjust="spacingAndGlyphs">(a)</text>
<text x="316.5" y="83.4" font-family='"DejaVu Serif", serif' font-weight="bold" font-size="68.5" textLength="49.5" lengthAdjust="spacingAndGlyphs">H</text>
<text x="361.9" y="92.5" font-family='"DejaVu Serif", serif' font-weight="bold" font-size="37" textLength="25.9" lengthAdjust="spacingAndGlyphs">2</text>
<text x="383.7" y="83.4" font-family='"DejaVu Serif", serif' font-weight="bold" font-size="68.5" textLength="41.0" lengthAdjust="spacingAndGlyphs">O</text>
<text x="463.4" y="83.4" font-family='"DejaVu Serif", serif' font-weight="bold" font-size="68.5" textLength="294.2" lengthAdjust="spacingAndGlyphs">15S−15N</text>
<text x="791.4" y="83.4" font-family='"DejaVu Serif", serif' font-weight="bold" font-size="68.5" textLength="184.6" lengthAdjust="spacingAndGlyphs">mean</text>
<text x="1009.5" y="83.4" font-family='"DejaVu Serif", serif' font-weight="bold" font-size="68.5" textLength="241.1" lengthAdjust="spacingAndGlyphs">(ppmv)</text>
<text x="34.2" y="733.6" font-family='"Liberation Sans", sans-serif' font-weight="bold" font-size="76.9" textLength="76.8" lengthAdjust="spacingAndGlyphs">20</text>
<text x="35.1" y="564.9" font-family='"Liberation Sans", sans-serif' font-weight="bold" font-size="76.9" textLength="75.8" lengthAdjust="spacingAndGlyphs">30</text>
<text x="36.0" y="396.1" font-family='"Liberation Sans", sans-serif' font-weight="bold" font-size="76.9" textLength="74.9" lengthAdjust="spacingAndGlyphs">40</text>
<text x="34.2" y="227.4" font-family='"Liberation Sans", sans-serif' font-weight="bold" font-size="76.9" textLength="76.8" lengthAdjust="spacingAndGlyphs">50</text>
<text x="202.6" y="868.8" font-family='"Liberation Sans", sans-serif' font-weight="bold" font-size="71.4" textLength="139.2" lengthAdjust="spacingAndGlyphs">2002</text>
<text x="448.7" y="868.8" font-family='"Liberation Sans", sans-serif' font-weight="bold" font-size="71.4" textLength="139.2" lengthAdjust="spacingAndGlyphs">2003</text>
<text x="694.7" y="868.8" font-family='"Liberation Sans", sans-serif' font-weight="bold" font-size="71.4" textLength="137.4" lengthAdjust="spacingAndGlyphs">2004</text>
<text x="940.7" y="868.8" font-family='"Liberation Sans", sans-serif' font-weight="bold" font-size="71.4" textLength="138.3" lengthAdjust="spacingAndGlyphs">2005</text>
<text x="1186.8" y="868.8" font-family='"Liberation Sans", sans-serif' font-weight="bold" font-size="71.4" textLength="139.2" lengthAdjust="spacingAndGlyphs">2006</text>
<text x="1432.8" y="868.8" font-family='"Liberation Sans", sans-serif' font-weight="bold" font-size="71.4" textLength="139.2" lengthAdjust="spacingAndGlyphs">2007</text>
<text x="1678.9" y="868.8" font-family='"Liberation Sans", sans-serif' font-weight="bold" font-size="71.4" textLength="139.2" lengthAdjust="spacingAndGlyphs">2008</text>
<text x="1924.9" y="868.8" font-family='"Liberation Sans", sans-serif' font-weight="bold" font-size="71.4" textLength="139.2" lengthAdjust="spacingAndGlyphs">2009</text>
<text x="28.1" y="993.0" font-family='"DejaVu Serif", serif' font-weight="bold" font-size="61" textLength="99.3" lengthAdjust="spacingAndGlyphs">km</text>
<text x="187.0" y="997.2" font-family='"DejaVu Serif", serif' font-weight="bold" font-size="68.5" textLength="97.1" lengthAdjust="spacingAndGlyphs">(b)</text>
<text x="316.5" y="997.2" font-family='"DejaVu Serif", serif' font-weight="bold" font-size="68.5" textLength="49.5" lengthAdjust="spacingAndGlyphs">H</text>
<text x="361.9" y="1006.3" font-family='"DejaVu Serif", serif' font-weight="bold" font-size="37" textLength="25.9" lengthAdjust="spacingAndGlyphs">2</text>
<text x="383.7" y="997.2" font-family='"DejaVu Serif", serif' font-weight="bold" font-size="68.5" textLength="41.0" lengthAdjust="spacingAndGlyphs">O</text>
<text x="463.6" y="997.2" font-family='"DejaVu Serif", serif' font-weight="bold" font-size="68.5" textLength="294.8" lengthAdjust="spacingAndGlyphs">60S−85S</text>
<text x="791.4" y="997.2" font-family='"DejaVu Serif", serif' font-weight="bold" font-size="68.5" textLength="184.6" lengthAdjust="spacingAndGlyphs">mean</text>
<text x="1009.5" y="997.2" font-family='"DejaVu Serif", serif' font-weight="bold" font-size="68.5" textLength="241.1" lengthAdjust="spacingAndGlyphs">(ppmv)</text>
<text x="34.2" y="1647.4" font-family='"Liberation Sans", sans-serif' font-weight="bold" font-size="76.9" textLength="76.8" lengthAdjust="spacingAndGlyphs">20</text>
<text x="35.1" y="1478.7" font-family='"Liberation Sans", sans-serif' font-weight="bold" font-size="76.9" textLength="75.8" lengthAdjust="spacingAndGlyphs">30</text>
<text x="36.0" y="1309.9" font-family='"Liberation Sans", sans-serif' font-weight="bold" font-size="76.9" textLength="74.9" lengthAdjust="spacingAndGlyphs">40</text>
<text x="34.2" y="1141.2" font-family='"Liberation Sans", sans-serif' font-weight="bold" font-size="76.9" textLength="76.8" lengthAdjust="spacingAndGlyphs">50</text>
<text x="202.6" y="1782.6" font-family='"Liberation Sans", sans-serif' font-weight="bold" font-size="71.4" textLength="139.2" lengthAdjust="spacingAndGlyphs">2002</text>
<text x="448.7" y="1782.6" font-family='"Liberation Sans", sans-serif' font-weight="bold" font-size="71.4" textLength="139.2" lengthAdjust="spacingAndGlyphs">2003</text>
<text x="694.7" y="1782.6" font-family='"Liberation Sans", sans-serif' font-weight="bold" font-size="71.4" textLength="137.4" lengthAdjust="spacingAndGlyphs">2004</text>
<text x="940.7" y="1782.6" font-family='"Liberation Sans", sans-serif' font-weight="bold" font-size="71.4" textLength="138.3" lengthAdjust="spacingAndGlyphs">2005</text>
<text x="1186.8" y="1782.6" font-family='"Liberation Sans", sans-serif' font-weight="bold" font-size="71.4" textLength="139.2" lengthAdjust="spacingAndGlyphs">2006</text>
<text x="1432.8" y="1782.6" font-family='"Liberation Sans", sans-serif' font-weight="bold" font-size="71.4" textLength="139.2" lengthAdjust="spacingAndGlyphs">2007</text>
<text x="1678.9" y="1782.6" font-family='"Liberation Sans", sans-serif' font-weight="bold" font-size="71.4" textLength="139.2" lengthAdjust="spacingAndGlyphs">2008</text>
<text x="1924.9" y="1782.6" font-family='"Liberation Sans", sans-serif' font-weight="bold" font-size="71.4" textLength="139.2" lengthAdjust="spacingAndGlyphs">2009</text>
<text x="378.7" y="1933.9" font-family='"Liberation Sans", sans-serif' font-weight="bold" font-size="58.9" textLength="117.6" lengthAdjust="spacingAndGlyphs">−0.4</text>
<text x="552.8" y="1933.9" font-family='"Liberation Sans", sans-serif' font-weight="bold" font-size="58.9" textLength="119.7" lengthAdjust="spacingAndGlyphs">−0.3</text>
<text x="726.9" y="1933.9" font-family='"Liberation Sans", sans-serif' font-weight="bold" font-size="58.9" textLength="119.7" lengthAdjust="spacingAndGlyphs">−0.2</text>
<text x="901.0" y="1933.9" font-family='"Liberation Sans", sans-serif' font-weight="bold" font-size="58.9" textLength="118.6" lengthAdjust="spacingAndGlyphs">−0.1</text>
<text x="1115.9" y="1933.9" font-family='"Liberation Sans", sans-serif' font-weight="bold" font-size="58.9" textLength="35.7" lengthAdjust="spacingAndGlyphs">0</text>
<text x="1267.6" y="1933.9" font-family='"Liberation Sans", sans-serif' font-weight="bold" font-size="58.9" textLength="76.6" lengthAdjust="spacingAndGlyphs">0.1</text>
<text x="1441.7" y="1933.9" font-family='"Liberation Sans", sans-serif' font-weight="bold" font-size="58.9" textLength="77.6" lengthAdjust="spacingAndGlyphs">0.2</text>
<text x="1615.9" y="1933.9" font-family='"Liberation Sans", sans-serif' font-weight="bold" font-size="58.9" textLength="76.6" lengthAdjust="spacingAndGlyphs">0.3</text>
<text x="1790.0" y="1933.9" font-family='"Liberation Sans", sans-serif' font-weight="bold" font-size="58.9" textLength="75.7" lengthAdjust="spacingAndGlyphs">0.4</text>
</svg>
</body></html>
